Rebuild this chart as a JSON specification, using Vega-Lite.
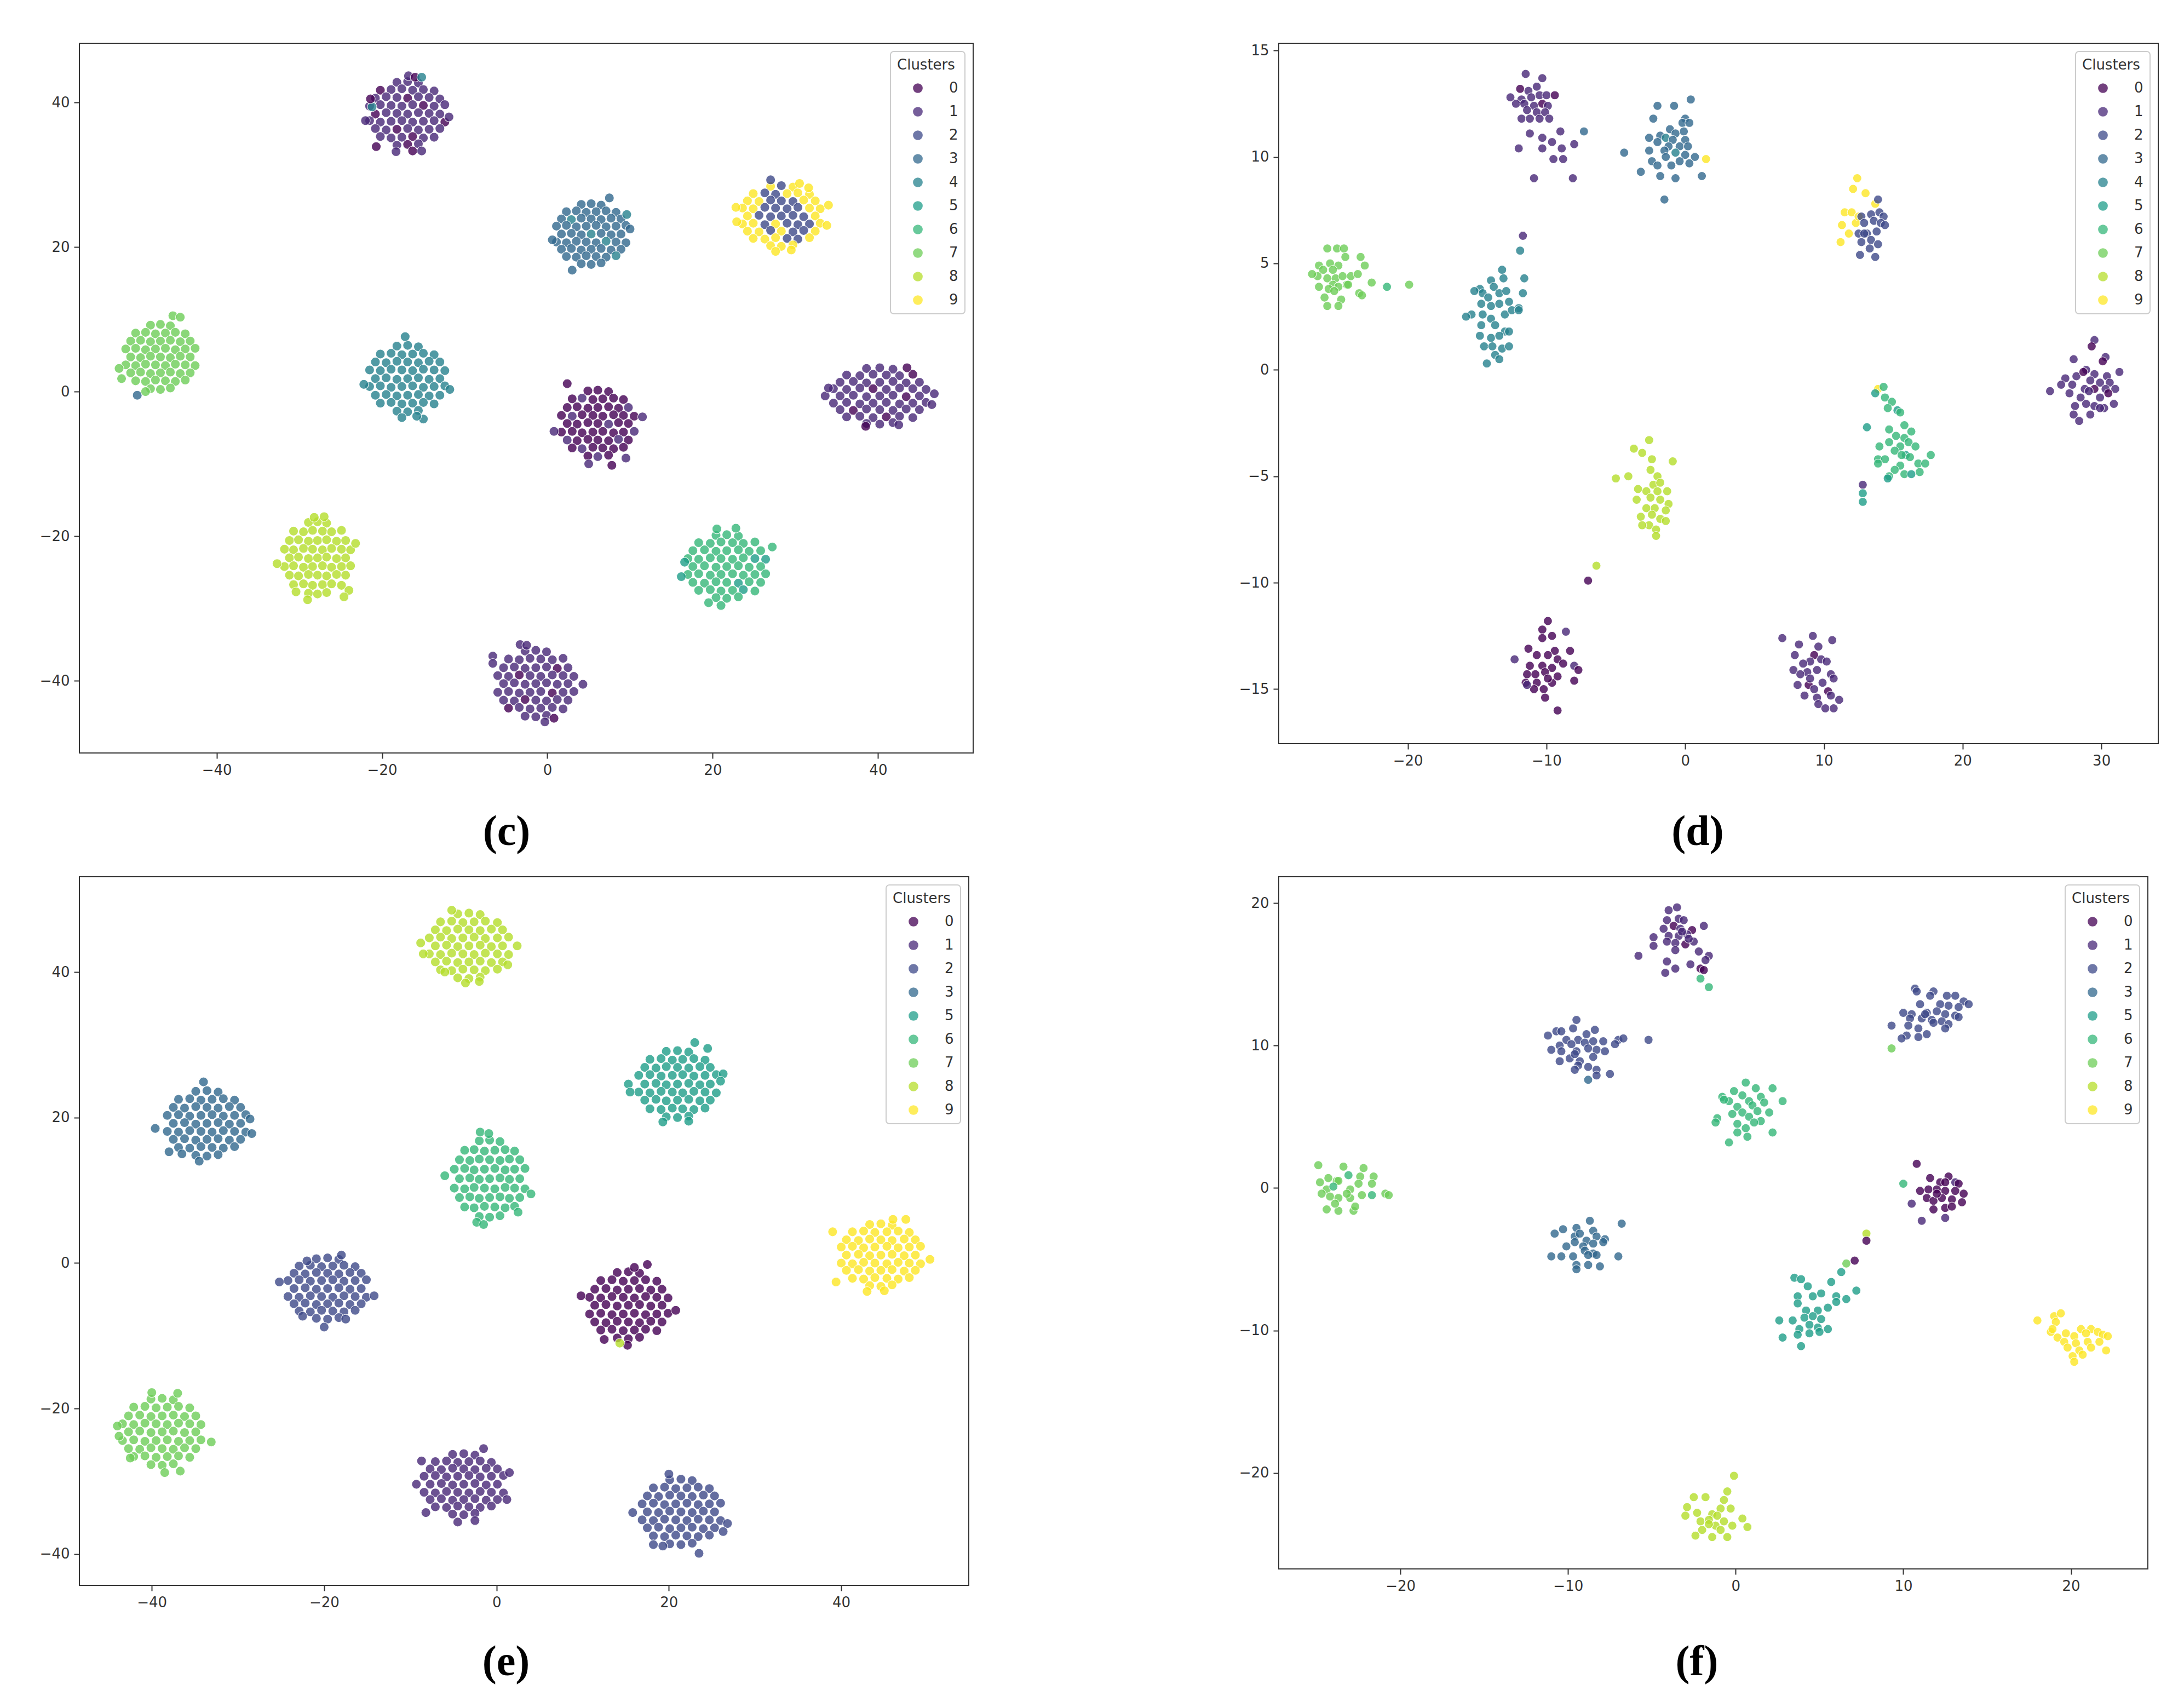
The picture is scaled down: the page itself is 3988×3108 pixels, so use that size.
{
"$schema": "https://vega.github.io/schema/vega-lite/v6.json",
"background": "white",
"padding": {"left": 71, "top": 78, "right": 20, "bottom": 10},
"autosize": {"type": "pad"},
"config": {
 "font": "DejaVu Sans",
 "view": {"stroke": "#333333", "strokeWidth": 2},
 "axis": {"domain": false, "grid": false, "tickColor": "#333333", "tickSize": 10, "tickWidth": 2, "labelFont": "DejaVu Sans", "labelFontSize": 26, "labelColor": "#333333", "labelPadding": 8, "labelFlush": false, "labelOverlap": false},
 "legend": {"orient": "top-right", "offset": 15, "padding": 12, "fillColor": "rgba(255,255,255,0.8)", "strokeColor": "#cccccc", "strokeWidth": 2, "cornerRadius": 6, "titleFont": "DejaVu Sans", "titleFontSize": 26, "titleFontWeight": "normal", "titleColor": "#333333", "titlePadding": 16, "labelFont": "DejaVu Sans", "labelFontSize": 26, "labelColor": "#333333", "symbolSize": 314, "symbolType": "circle", "symbolOffset": 25, "labelOffset": 44, "rowPadding": 17, "symbolOpacity": 0.75, "symbolStrokeWidth": 0},
 "title": {"font": "Liberation Serif", "fontSize": 78, "fontWeight": "bold", "color": "#000000", "anchor": "middle", "baseline": "top"}
},
"columns": 2,
"bounds": "flush",
"spacing": {"row": 226, "column": 558},
"resolve": {"scale": {"x": "independent", "y": "independent", "color": "independent"}, "legend": {"color": "independent"}},
"datasets": {
"c": [
{"x":-18.2,"y":42.8,"c":1},{"x":-16.9,"y":42.9,"c":1},{"x":-15.6,"y":42.7,"c":1},
{"x":-20.2,"y":41.7,"c":0},{"x":-18.9,"y":41.8,"c":1},{"x":-17.6,"y":41.9,"c":1},{"x":-16.3,"y":41.7,"c":1},{"x":-15.0,"y":41.8,"c":1},{"x":-13.7,"y":41.6,"c":1},
{"x":-20.8,"y":40.6,"c":1},{"x":-19.5,"y":40.8,"c":1},{"x":-18.2,"y":40.7,"c":1},{"x":-16.9,"y":40.6,"c":0},{"x":-15.6,"y":40.8,"c":1},{"x":-14.3,"y":40.7,"c":1},{"x":-13.0,"y":40.5,"c":1},
{"x":-21.5,"y":39.5,"c":1},{"x":-20.2,"y":39.7,"c":1},{"x":-18.9,"y":39.6,"c":1},{"x":-17.6,"y":39.5,"c":1},{"x":-16.3,"y":39.7,"c":1},{"x":-15.0,"y":39.6,"c":0},{"x":-13.7,"y":39.5,"c":1},{"x":-12.4,"y":39.7,"c":1},
{"x":-20.8,"y":38.4,"c":0},{"x":-19.5,"y":38.6,"c":1},{"x":-18.2,"y":38.5,"c":1},{"x":-16.9,"y":38.4,"c":1},{"x":-15.6,"y":38.6,"c":1},{"x":-14.3,"y":38.5,"c":1},{"x":-13.0,"y":38.4,"c":1},
{"x":-21.5,"y":37.5,"c":1},{"x":-20.2,"y":37.3,"c":1},{"x":-18.9,"y":37.4,"c":1},{"x":-17.6,"y":37.5,"c":1},{"x":-16.3,"y":37.3,"c":1},{"x":-15.0,"y":37.4,"c":1},{"x":-13.7,"y":37.5,"c":1},{"x":-12.4,"y":37.3,"c":0},
{"x":-20.8,"y":36.4,"c":1},{"x":-19.5,"y":36.2,"c":1},{"x":-18.2,"y":36.3,"c":0},{"x":-16.9,"y":36.4,"c":1},{"x":-15.6,"y":36.2,"c":1},{"x":-14.3,"y":36.3,"c":1},{"x":-13.0,"y":36.4,"c":1},
{"x":-20.2,"y":35.3,"c":1},{"x":-18.9,"y":35.1,"c":1},{"x":-17.6,"y":35.2,"c":1},{"x":-16.3,"y":35.3,"c":0},{"x":-15.0,"y":35.1,"c":1},{"x":-13.7,"y":35.2,"c":1},
{"x":-18.2,"y":34.1,"c":1},{"x":-16.9,"y":34.2,"c":0},{"x":-15.6,"y":34.3,"c":1},
{"x":-16.8,"y":43.7,"c":1},{"x":-16.0,"y":43.5,"c":0},{"x":-15.2,"y":43.5,"c":4},{"x":-21.2,"y":39.4,"c":4},{"x":-20.7,"y":33.9,"c":0},{"x":-18.3,"y":33.2,"c":1},{"x":-16.3,"y":33.3,"c":0},{"x":-15.2,"y":33.3,"c":1},{"x":-22.0,"y":37.5,"c":1},{"x":-11.9,"y":38.0,"c":1},{"x":-21.4,"y":40.5,"c":0},

{"x":-48.0,"y":9.2,"c":7},{"x":-46.8,"y":9.3,"c":7},{"x":-45.6,"y":9.1,"c":7},
{"x":-49.8,"y":8.1,"c":7},{"x":-48.6,"y":8.2,"c":7},{"x":-47.4,"y":8.0,"c":7},{"x":-46.2,"y":8.1,"c":7},{"x":-45.0,"y":8.2,"c":7},{"x":-43.8,"y":8.0,"c":7},
{"x":-50.4,"y":7.0,"c":7},{"x":-49.2,"y":7.1,"c":7},{"x":-48.0,"y":6.9,"c":7},{"x":-46.8,"y":7.0,"c":7},{"x":-45.6,"y":7.1,"c":7},{"x":-44.4,"y":6.9,"c":7},{"x":-43.2,"y":7.0,"c":7},
{"x":-51.0,"y":5.9,"c":7},{"x":-49.8,"y":6.0,"c":7},{"x":-48.6,"y":5.8,"c":7},{"x":-47.4,"y":5.9,"c":7},{"x":-46.2,"y":6.0,"c":7},{"x":-45.0,"y":5.8,"c":7},{"x":-43.8,"y":5.9,"c":7},{"x":-42.6,"y":6.0,"c":7},
{"x":-50.4,"y":4.8,"c":7},{"x":-49.2,"y":4.7,"c":7},{"x":-48.0,"y":4.9,"c":7},{"x":-46.8,"y":4.8,"c":7},{"x":-45.6,"y":4.7,"c":7},{"x":-44.4,"y":4.9,"c":7},{"x":-43.2,"y":4.8,"c":7},
{"x":-51.0,"y":3.7,"c":7},{"x":-49.8,"y":3.6,"c":7},{"x":-48.6,"y":3.8,"c":7},{"x":-47.4,"y":3.7,"c":7},{"x":-46.2,"y":3.6,"c":7},{"x":-45.0,"y":3.8,"c":7},{"x":-43.8,"y":3.7,"c":7},{"x":-42.6,"y":3.6,"c":7},
{"x":-50.4,"y":2.6,"c":7},{"x":-49.2,"y":2.7,"c":7},{"x":-48.0,"y":2.5,"c":7},{"x":-46.8,"y":2.6,"c":7},{"x":-45.6,"y":2.7,"c":7},{"x":-44.4,"y":2.5,"c":7},{"x":-43.2,"y":2.6,"c":7},
{"x":-49.8,"y":1.5,"c":7},{"x":-48.6,"y":1.4,"c":7},{"x":-47.4,"y":1.6,"c":7},{"x":-46.2,"y":1.5,"c":7},{"x":-45.0,"y":1.4,"c":7},{"x":-43.8,"y":1.6,"c":7},
{"x":-48.0,"y":0.4,"c":7},{"x":-46.8,"y":0.3,"c":7},{"x":-45.6,"y":0.5,"c":7},
{"x":-49.6,"y":-0.5,"c":3},{"x":-45.3,"y":10.5,"c":7},{"x":-44.4,"y":10.3,"c":7},{"x":-51.8,"y":3.2,"c":7},{"x":-51.5,"y":1.8,"c":7},{"x":-48.6,"y":0.0,"c":7},

{"x":-18.2,"y":6.3,"c":4},{"x":-16.9,"y":6.4,"c":4},{"x":-15.6,"y":6.2,"c":4},
{"x":-20.2,"y":5.2,"c":4},{"x":-18.9,"y":5.3,"c":4},{"x":-17.6,"y":5.1,"c":4},{"x":-16.3,"y":5.2,"c":4},{"x":-15.0,"y":5.3,"c":4},{"x":-13.7,"y":5.1,"c":4},
{"x":-20.8,"y":4.1,"c":4},{"x":-19.5,"y":4.0,"c":4},{"x":-18.2,"y":4.2,"c":4},{"x":-16.9,"y":4.1,"c":4},{"x":-15.6,"y":4.0,"c":4},{"x":-14.3,"y":4.2,"c":4},{"x":-13.0,"y":4.1,"c":4},
{"x":-21.5,"y":3.0,"c":4},{"x":-20.2,"y":2.9,"c":4},{"x":-18.9,"y":3.1,"c":4},{"x":-17.6,"y":3.0,"c":4},{"x":-16.3,"y":2.9,"c":4},{"x":-15.0,"y":3.1,"c":4},{"x":-13.7,"y":3.0,"c":4},{"x":-12.4,"y":2.9,"c":4},
{"x":-20.8,"y":1.8,"c":4},{"x":-19.5,"y":1.9,"c":4},{"x":-18.2,"y":1.7,"c":4},{"x":-16.9,"y":1.8,"c":4},{"x":-15.6,"y":1.9,"c":4},{"x":-14.3,"y":1.7,"c":4},{"x":-13.0,"y":1.8,"c":4},
{"x":-21.5,"y":0.7,"c":4},{"x":-20.2,"y":0.8,"c":4},{"x":-18.9,"y":0.6,"c":4},{"x":-17.6,"y":0.7,"c":4},{"x":-16.3,"y":0.8,"c":4},{"x":-15.0,"y":0.6,"c":4},{"x":-13.7,"y":0.7,"c":4},{"x":-12.4,"y":0.8,"c":4},
{"x":-20.8,"y":-0.5,"c":4},{"x":-19.5,"y":-0.4,"c":4},{"x":-18.2,"y":-0.6,"c":4},{"x":-16.9,"y":-0.5,"c":4},{"x":-15.6,"y":-0.4,"c":4},{"x":-14.3,"y":-0.6,"c":4},{"x":-13.0,"y":-0.5,"c":4},
{"x":-20.2,"y":-1.6,"c":4},{"x":-18.9,"y":-1.5,"c":4},{"x":-17.6,"y":-1.7,"c":4},{"x":-16.3,"y":-1.6,"c":4},{"x":-15.0,"y":-1.5,"c":4},{"x":-13.7,"y":-1.7,"c":4},
{"x":-18.2,"y":-2.7,"c":4},{"x":-16.9,"y":-2.8,"c":4},{"x":-15.6,"y":-2.6,"c":4},
{"x":-17.2,"y":7.6,"c":4},{"x":-15.0,"y":-3.8,"c":4},{"x":-17.6,"y":-3.6,"c":4},{"x":-22.2,"y":1.0,"c":4},{"x":-11.8,"y":0.3,"c":4},{"x":-15.8,"y":-3.4,"c":4},

{"x":4.1,"y":25.9,"c":3},{"x":5.3,"y":26.0,"c":3},{"x":6.5,"y":25.8,"c":3},
{"x":2.3,"y":24.9,"c":3},{"x":3.5,"y":25.0,"c":3},{"x":4.7,"y":24.8,"c":3},{"x":5.9,"y":24.9,"c":3},{"x":7.1,"y":25.0,"c":3},{"x":8.3,"y":24.8,"c":3},
{"x":1.7,"y":23.9,"c":3},{"x":2.9,"y":23.8,"c":4},{"x":4.1,"y":24.0,"c":3},{"x":5.3,"y":23.9,"c":3},{"x":6.5,"y":23.8,"c":3},{"x":7.7,"y":24.0,"c":3},{"x":8.9,"y":23.9,"c":3},
{"x":1.1,"y":22.9,"c":3},{"x":2.3,"y":23.0,"c":3},{"x":3.5,"y":22.8,"c":3},{"x":4.7,"y":22.9,"c":3},{"x":5.9,"y":23.0,"c":3},{"x":7.1,"y":22.8,"c":3},{"x":8.3,"y":22.9,"c":3},{"x":9.5,"y":23.0,"c":3},
{"x":1.7,"y":21.8,"c":3},{"x":2.9,"y":21.9,"c":3},{"x":4.1,"y":21.7,"c":3},{"x":5.3,"y":21.8,"c":4},{"x":6.5,"y":21.9,"c":3},{"x":7.7,"y":21.7,"c":3},{"x":8.9,"y":21.8,"c":3},
{"x":1.1,"y":20.7,"c":3},{"x":2.3,"y":20.6,"c":3},{"x":3.5,"y":20.8,"c":3},{"x":4.7,"y":20.7,"c":3},{"x":5.9,"y":20.6,"c":3},{"x":7.1,"y":20.8,"c":4},{"x":8.3,"y":20.7,"c":3},{"x":9.5,"y":20.6,"c":3},
{"x":1.7,"y":19.7,"c":3},{"x":2.9,"y":19.8,"c":3},{"x":4.1,"y":19.6,"c":3},{"x":5.3,"y":19.7,"c":3},{"x":6.5,"y":19.8,"c":3},{"x":7.7,"y":19.6,"c":3},{"x":8.9,"y":19.7,"c":3},
{"x":2.3,"y":18.7,"c":3},{"x":3.5,"y":18.6,"c":3},{"x":4.7,"y":18.8,"c":3},{"x":5.9,"y":18.7,"c":3},{"x":7.1,"y":18.6,"c":3},{"x":8.3,"y":18.8,"c":4},
{"x":4.1,"y":17.7,"c":3},{"x":5.3,"y":17.6,"c":3},{"x":6.5,"y":17.8,"c":3},
{"x":0.6,"y":21.0,"c":3},{"x":10.0,"y":22.5,"c":3},{"x":3.0,"y":16.8,"c":3},{"x":7.5,"y":26.8,"c":3},{"x":9.6,"y":24.5,"c":4},

{"x":27.0,"y":28.4,"c":9},{"x":28.3,"y":28.5,"c":2},{"x":29.7,"y":28.3,"c":9},
{"x":24.9,"y":27.4,"c":9},{"x":26.3,"y":27.5,"c":2},{"x":27.6,"y":27.3,"c":2},{"x":29.0,"y":27.4,"c":9},{"x":30.3,"y":27.5,"c":9},{"x":31.7,"y":27.3,"c":9},
{"x":24.2,"y":26.4,"c":9},{"x":25.6,"y":26.3,"c":9},{"x":27.0,"y":26.5,"c":2},{"x":28.3,"y":26.4,"c":2},{"x":29.7,"y":26.3,"c":2},{"x":31.0,"y":26.5,"c":9},{"x":32.4,"y":26.4,"c":9},
{"x":23.6,"y":25.4,"c":9},{"x":24.9,"y":25.3,"c":9},{"x":26.3,"y":25.5,"c":2},{"x":27.6,"y":25.4,"c":2},{"x":29.0,"y":25.3,"c":2},{"x":30.3,"y":25.5,"c":2},{"x":31.7,"y":25.4,"c":9},{"x":33.0,"y":25.3,"c":9},
{"x":24.2,"y":24.3,"c":9},{"x":25.6,"y":24.4,"c":2},{"x":27.0,"y":24.2,"c":2},{"x":28.3,"y":24.3,"c":2},{"x":29.7,"y":24.4,"c":2},{"x":31.0,"y":24.2,"c":2},{"x":32.4,"y":24.3,"c":9},
{"x":23.6,"y":23.2,"c":9},{"x":24.9,"y":23.3,"c":9},{"x":26.3,"y":23.1,"c":2},{"x":27.6,"y":23.2,"c":9},{"x":29.0,"y":23.3,"c":2},{"x":30.3,"y":23.1,"c":2},{"x":31.7,"y":23.2,"c":2},{"x":33.0,"y":23.3,"c":9},
{"x":24.2,"y":22.2,"c":9},{"x":25.6,"y":22.1,"c":9},{"x":27.0,"y":22.3,"c":2},{"x":28.3,"y":22.2,"c":9},{"x":29.7,"y":22.1,"c":2},{"x":31.0,"y":22.3,"c":2},{"x":32.4,"y":22.2,"c":9},
{"x":24.9,"y":21.2,"c":9},{"x":26.3,"y":21.1,"c":9},{"x":27.6,"y":21.3,"c":9},{"x":29.0,"y":21.2,"c":2},{"x":30.3,"y":21.1,"c":2},{"x":31.7,"y":21.3,"c":9},
{"x":27.0,"y":20.2,"c":9},{"x":28.3,"y":20.1,"c":9},{"x":29.7,"y":20.3,"c":9},
{"x":22.8,"y":25.5,"c":9},{"x":22.9,"y":23.5,"c":9},{"x":34.0,"y":25.8,"c":9},{"x":33.8,"y":23.0,"c":9},{"x":27.0,"y":29.3,"c":2},{"x":30.5,"y":28.8,"c":9},{"x":31.6,"y":28.2,"c":9},{"x":27.6,"y":19.4,"c":9},{"x":29.5,"y":19.6,"c":9},

{"x":38.6,"y":3.2,"c":1},{"x":40.2,"y":3.3,"c":1},{"x":41.8,"y":3.1,"c":1},
{"x":36.2,"y":2.3,"c":1},{"x":37.8,"y":2.2,"c":1},{"x":39.4,"y":2.4,"c":1},{"x":41.0,"y":2.3,"c":1},{"x":42.6,"y":2.2,"c":1},{"x":44.2,"y":2.4,"c":0},
{"x":35.4,"y":1.3,"c":1},{"x":37.0,"y":1.4,"c":1},{"x":38.6,"y":1.2,"c":1},{"x":40.2,"y":1.3,"c":1},{"x":41.8,"y":1.4,"c":1},{"x":43.4,"y":1.2,"c":1},{"x":45.0,"y":1.3,"c":1},
{"x":34.6,"y":0.4,"c":1},{"x":36.2,"y":0.3,"c":1},{"x":37.8,"y":0.5,"c":1},{"x":39.4,"y":0.4,"c":0},{"x":41.0,"y":0.3,"c":1},{"x":42.6,"y":0.5,"c":1},{"x":44.2,"y":0.4,"c":1},{"x":45.8,"y":0.3,"c":1},
{"x":35.4,"y":-0.6,"c":1},{"x":37.0,"y":-0.5,"c":1},{"x":38.6,"y":-0.7,"c":1},{"x":40.2,"y":-0.6,"c":1},{"x":41.8,"y":-0.5,"c":1},{"x":43.4,"y":-0.7,"c":0},{"x":45.0,"y":-0.6,"c":1},
{"x":34.6,"y":-1.6,"c":1},{"x":36.2,"y":-1.5,"c":1},{"x":37.8,"y":-1.7,"c":1},{"x":39.4,"y":-1.6,"c":1},{"x":41.0,"y":-1.5,"c":1},{"x":42.6,"y":-1.7,"c":1},{"x":44.2,"y":-1.6,"c":1},{"x":45.8,"y":-1.5,"c":1},
{"x":35.4,"y":-2.5,"c":1},{"x":37.0,"y":-2.6,"c":0},{"x":38.6,"y":-2.4,"c":1},{"x":40.2,"y":-2.5,"c":1},{"x":41.8,"y":-2.6,"c":1},{"x":43.4,"y":-2.4,"c":1},{"x":45.0,"y":-2.5,"c":1},
{"x":36.2,"y":-3.5,"c":1},{"x":37.8,"y":-3.4,"c":1},{"x":39.4,"y":-3.6,"c":1},{"x":41.0,"y":-3.5,"c":0},{"x":42.6,"y":-3.4,"c":1},{"x":44.2,"y":-3.6,"c":1},
{"x":38.6,"y":-4.4,"c":1},{"x":40.2,"y":-4.5,"c":1},{"x":41.8,"y":-4.3,"c":1},
{"x":43.5,"y":3.3,"c":0},{"x":33.6,"y":-0.6,"c":1},{"x":46.8,"y":-0.3,"c":1},{"x":46.5,"y":-1.8,"c":1},{"x":38.5,"y":-4.8,"c":0},{"x":42.5,"y":-4.6,"c":1},{"x":34.0,"y":0.5,"c":1},

{"x":4.9,"y":0.1,"c":0},{"x":6.1,"y":0.2,"c":0},{"x":7.4,"y":0.0,"c":0},
{"x":3.0,"y":-1.0,"c":0},{"x":4.2,"y":-0.9,"c":1},{"x":5.5,"y":-1.1,"c":0},{"x":6.7,"y":-1.0,"c":0},{"x":8.0,"y":-0.9,"c":0},{"x":9.2,"y":-1.1,"c":0},
{"x":2.4,"y":-2.2,"c":0},{"x":3.6,"y":-2.1,"c":0},{"x":4.9,"y":-2.3,"c":0},{"x":6.1,"y":-2.2,"c":0},{"x":7.4,"y":-2.1,"c":0},{"x":8.6,"y":-2.3,"c":0},{"x":9.8,"y":-2.2,"c":1},
{"x":1.7,"y":-3.3,"c":0},{"x":3.0,"y":-3.4,"c":1},{"x":4.2,"y":-3.2,"c":0},{"x":5.5,"y":-3.3,"c":0},{"x":6.7,"y":-3.4,"c":0},{"x":8.0,"y":-3.2,"c":0},{"x":9.2,"y":-3.3,"c":0},{"x":10.5,"y":-3.4,"c":0},
{"x":2.4,"y":-4.4,"c":0},{"x":3.6,"y":-4.5,"c":0},{"x":4.9,"y":-4.3,"c":0},{"x":6.1,"y":-4.4,"c":0},{"x":7.4,"y":-4.5,"c":1},{"x":8.6,"y":-4.3,"c":0},{"x":9.8,"y":-4.4,"c":0},
{"x":1.7,"y":-5.6,"c":0},{"x":3.0,"y":-5.5,"c":0},{"x":4.2,"y":-5.7,"c":0},{"x":5.5,"y":-5.6,"c":0},{"x":6.7,"y":-5.5,"c":0},{"x":8.0,"y":-5.7,"c":0},{"x":9.2,"y":-5.6,"c":0},{"x":10.5,"y":-5.5,"c":1},
{"x":2.4,"y":-6.7,"c":1},{"x":3.6,"y":-6.8,"c":0},{"x":4.9,"y":-6.6,"c":0},{"x":6.1,"y":-6.7,"c":0},{"x":7.4,"y":-6.8,"c":0},{"x":8.6,"y":-6.6,"c":1},{"x":9.8,"y":-6.7,"c":0},
{"x":3.0,"y":-7.8,"c":0},{"x":4.2,"y":-7.9,"c":1},{"x":5.5,"y":-7.7,"c":0},{"x":6.7,"y":-7.8,"c":0},{"x":8.0,"y":-7.9,"c":0},{"x":9.2,"y":-7.7,"c":0},
{"x":4.9,"y":-8.9,"c":0},{"x":6.1,"y":-9.0,"c":1},{"x":7.4,"y":-8.8,"c":0},
{"x":2.4,"y":1.1,"c":0},{"x":11.5,"y":-3.5,"c":1},{"x":0.8,"y":-5.5,"c":1},{"x":5.0,"y":-10.0,"c":1},{"x":7.8,"y":-10.2,"c":0},{"x":9.5,"y":-9.2,"c":1},

{"x":20.4,"y":-19.9,"c":6},{"x":21.7,"y":-19.8,"c":6},{"x":23.1,"y":-20.0,"c":6},
{"x":18.3,"y":-20.9,"c":6},{"x":19.7,"y":-21.0,"c":6},{"x":21.0,"y":-20.8,"c":6},{"x":22.4,"y":-20.9,"c":6},{"x":23.7,"y":-21.0,"c":6},{"x":25.1,"y":-20.8,"c":6},
{"x":17.6,"y":-22.0,"c":6},{"x":19.0,"y":-21.9,"c":6},{"x":20.4,"y":-22.1,"c":6},{"x":21.7,"y":-22.0,"c":6},{"x":23.1,"y":-21.9,"c":6},{"x":24.4,"y":-22.1,"c":6},{"x":25.8,"y":-22.0,"c":6},
{"x":17.0,"y":-23.1,"c":6},{"x":18.3,"y":-23.2,"c":6},{"x":19.7,"y":-23.0,"c":6},{"x":21.0,"y":-23.1,"c":6},{"x":22.4,"y":-23.2,"c":6},{"x":23.7,"y":-23.0,"c":6},{"x":25.1,"y":-23.1,"c":5},{"x":26.4,"y":-23.2,"c":5},
{"x":17.6,"y":-24.2,"c":6},{"x":19.0,"y":-24.1,"c":6},{"x":20.4,"y":-24.3,"c":6},{"x":21.7,"y":-24.2,"c":6},{"x":23.1,"y":-24.1,"c":6},{"x":24.4,"y":-24.3,"c":6},{"x":25.8,"y":-24.2,"c":6},
{"x":17.0,"y":-25.3,"c":6},{"x":18.3,"y":-25.2,"c":6},{"x":19.7,"y":-25.4,"c":6},{"x":21.0,"y":-25.3,"c":6},{"x":22.4,"y":-25.2,"c":6},{"x":23.7,"y":-25.4,"c":6},{"x":25.1,"y":-25.3,"c":6},{"x":26.4,"y":-25.2,"c":6},
{"x":17.6,"y":-26.4,"c":6},{"x":19.0,"y":-26.5,"c":6},{"x":20.4,"y":-26.3,"c":6},{"x":21.7,"y":-26.4,"c":6},{"x":23.1,"y":-26.5,"c":5},{"x":24.4,"y":-26.3,"c":6},{"x":25.8,"y":-26.4,"c":6},
{"x":18.3,"y":-27.5,"c":6},{"x":19.7,"y":-27.4,"c":6},{"x":21.0,"y":-27.6,"c":6},{"x":22.4,"y":-27.5,"c":6},{"x":23.7,"y":-27.4,"c":5},{"x":25.1,"y":-27.6,"c":6},
{"x":20.4,"y":-28.5,"c":6},{"x":21.7,"y":-28.6,"c":6},{"x":23.1,"y":-28.4,"c":6},
{"x":16.6,"y":-23.6,"c":5},{"x":16.2,"y":-25.6,"c":5},{"x":20.5,"y":-19.0,"c":6},{"x":22.8,"y":-18.9,"c":6},{"x":19.5,"y":-29.2,"c":6},{"x":21.0,"y":-29.6,"c":6},{"x":27.2,"y":-21.5,"c":6},

{"x":-28.9,"y":-18.1,"c":8},{"x":-27.8,"y":-18.0,"c":8},{"x":-26.7,"y":-18.2,"c":8},
{"x":-30.7,"y":-19.3,"c":8},{"x":-29.5,"y":-19.4,"c":8},{"x":-28.4,"y":-19.2,"c":8},{"x":-27.2,"y":-19.3,"c":8},{"x":-26.1,"y":-19.4,"c":8},{"x":-24.9,"y":-19.2,"c":8},
{"x":-31.2,"y":-20.6,"c":8},{"x":-30.1,"y":-20.5,"c":8},{"x":-28.9,"y":-20.7,"c":8},{"x":-27.8,"y":-20.6,"c":8},{"x":-26.7,"y":-20.5,"c":8},{"x":-25.5,"y":-20.7,"c":8},{"x":-24.4,"y":-20.6,"c":8},
{"x":-31.8,"y":-21.8,"c":8},{"x":-30.7,"y":-21.9,"c":8},{"x":-29.5,"y":-21.7,"c":8},{"x":-28.4,"y":-21.8,"c":8},{"x":-27.2,"y":-21.9,"c":8},{"x":-26.1,"y":-21.7,"c":8},{"x":-24.9,"y":-21.8,"c":8},{"x":-23.8,"y":-21.9,"c":8},
{"x":-31.2,"y":-23.0,"c":8},{"x":-30.1,"y":-22.9,"c":8},{"x":-28.9,"y":-23.1,"c":8},{"x":-27.8,"y":-23.0,"c":8},{"x":-26.7,"y":-22.9,"c":8},{"x":-25.5,"y":-23.1,"c":8},{"x":-24.4,"y":-23.0,"c":8},
{"x":-31.8,"y":-24.2,"c":8},{"x":-30.7,"y":-24.1,"c":8},{"x":-29.5,"y":-24.3,"c":8},{"x":-28.4,"y":-24.2,"c":8},{"x":-27.2,"y":-24.1,"c":8},{"x":-26.1,"y":-24.3,"c":8},{"x":-24.9,"y":-24.2,"c":8},{"x":-23.8,"y":-24.1,"c":8},
{"x":-31.2,"y":-25.4,"c":8},{"x":-30.1,"y":-25.5,"c":8},{"x":-28.9,"y":-25.3,"c":8},{"x":-27.8,"y":-25.4,"c":8},{"x":-26.7,"y":-25.5,"c":8},{"x":-25.5,"y":-25.3,"c":8},{"x":-24.4,"y":-25.4,"c":8},
{"x":-30.7,"y":-26.7,"c":8},{"x":-29.5,"y":-26.6,"c":8},{"x":-28.4,"y":-26.8,"c":8},{"x":-27.2,"y":-26.7,"c":8},{"x":-26.1,"y":-26.6,"c":8},{"x":-24.9,"y":-26.8,"c":8},
{"x":-28.9,"y":-27.9,"c":8},{"x":-27.8,"y":-28.0,"c":8},{"x":-26.7,"y":-27.8,"c":8},
{"x":-27.0,"y":-17.3,"c":8},{"x":-28.2,"y":-17.4,"c":8},{"x":-32.7,"y":-23.8,"c":8},{"x":-23.2,"y":-21.0,"c":8},{"x":-24.0,"y":-27.5,"c":8},{"x":-24.6,"y":-28.4,"c":8},{"x":-29.0,"y":-28.8,"c":8},{"x":-30.4,"y":-27.7,"c":8},

{"x":-2.7,"y":-35.9,"c":1},{"x":-1.4,"y":-35.8,"c":1},{"x":-0.1,"y":-36.0,"c":1},
{"x":-4.7,"y":-37.0,"c":1},{"x":-3.4,"y":-37.1,"c":1},{"x":-2.1,"y":-36.9,"c":1},{"x":-0.8,"y":-37.0,"c":1},{"x":0.6,"y":-37.1,"c":1},{"x":1.9,"y":-36.9,"c":1},
{"x":-5.3,"y":-38.2,"c":1},{"x":-4.0,"y":-38.1,"c":1},{"x":-2.7,"y":-38.3,"c":1},{"x":-1.4,"y":-38.2,"c":1},{"x":-0.1,"y":-38.1,"c":1},{"x":1.2,"y":-38.3,"c":0},{"x":2.5,"y":-38.2,"c":1},
{"x":-6.0,"y":-39.3,"c":1},{"x":-4.7,"y":-39.4,"c":1},{"x":-3.4,"y":-39.2,"c":0},{"x":-2.1,"y":-39.3,"c":1},{"x":-0.8,"y":-39.4,"c":1},{"x":0.6,"y":-39.2,"c":1},{"x":1.9,"y":-39.3,"c":1},{"x":3.2,"y":-39.4,"c":1},
{"x":-5.3,"y":-40.4,"c":1},{"x":-4.0,"y":-40.3,"c":1},{"x":-2.7,"y":-40.5,"c":1},{"x":-1.4,"y":-40.4,"c":1},{"x":-0.1,"y":-40.3,"c":1},{"x":1.2,"y":-40.5,"c":1},{"x":2.5,"y":-40.4,"c":1},
{"x":-6.0,"y":-41.6,"c":1},{"x":-4.7,"y":-41.5,"c":1},{"x":-3.4,"y":-41.7,"c":1},{"x":-2.1,"y":-41.6,"c":1},{"x":-0.8,"y":-41.5,"c":1},{"x":0.6,"y":-41.7,"c":0},{"x":1.9,"y":-41.6,"c":1},{"x":3.2,"y":-41.5,"c":1},
{"x":-5.3,"y":-42.7,"c":1},{"x":-4.0,"y":-42.8,"c":1},{"x":-2.7,"y":-42.6,"c":0},{"x":-1.4,"y":-42.7,"c":1},{"x":-0.1,"y":-42.8,"c":1},{"x":1.2,"y":-42.6,"c":1},{"x":2.5,"y":-42.7,"c":1},
{"x":-4.7,"y":-43.8,"c":0},{"x":-3.4,"y":-43.7,"c":1},{"x":-2.1,"y":-43.9,"c":1},{"x":-0.8,"y":-43.8,"c":1},{"x":0.6,"y":-43.7,"c":1},{"x":1.9,"y":-43.9,"c":1},
{"x":-2.7,"y":-44.9,"c":1},{"x":-1.4,"y":-45.0,"c":1},{"x":-0.1,"y":-44.8,"c":1},
{"x":-6.6,"y":-36.6,"c":1},{"x":-6.6,"y":-37.6,"c":1},{"x":-3.3,"y":-35.0,"c":1},{"x":-2.5,"y":-35.1,"c":1},{"x":-0.3,"y":-45.7,"c":1},{"x":4.3,"y":-40.5,"c":1},{"x":0.8,"y":-45.2,"c":0}
],
"d": [
{"x":-11.5,"y":13.9,"c":1},{"x":-10.3,"y":13.7,"c":1},{"x":-11.9,"y":13.2,"c":0},{"x":-11.3,"y":13.1,"c":1},{"x":-10.7,"y":13.3,"c":1},{"x":-12.6,"y":12.8,"c":1},{"x":-11.8,"y":12.7,"c":1},{"x":-11.1,"y":12.8,"c":1},{"x":-10.5,"y":12.9,"c":1},{"x":-10.0,"y":12.9,"c":1},{"x":-9.4,"y":12.9,"c":0},{"x":-12.2,"y":12.5,"c":1},{"x":-11.6,"y":12.5,"c":1},{"x":-10.9,"y":12.4,"c":1},{"x":-10.3,"y":12.5,"c":0},{"x":-9.9,"y":12.4,"c":1},{"x":-11.4,"y":12.2,"c":1},{"x":-10.7,"y":12.1,"c":1},{"x":-10.1,"y":12.1,"c":1},{"x":-11.8,"y":11.8,"c":1},{"x":-11.2,"y":11.8,"c":1},{"x":-10.5,"y":11.8,"c":1},{"x":-9.8,"y":11.8,"c":1},{"x":-9.0,"y":11.2,"c":1},{"x":-11.2,"y":11.1,"c":1},{"x":-10.3,"y":10.9,"c":1},{"x":-9.6,"y":10.7,"c":1},{"x":-8.0,"y":10.6,"c":1},{"x":-8.9,"y":10.4,"c":1},{"x":-12.0,"y":10.4,"c":1},{"x":-10.3,"y":10.4,"c":1},{"x":-9.5,"y":9.9,"c":1},{"x":-8.8,"y":9.9,"c":1},{"x":-10.9,"y":9.0,"c":1},{"x":-8.1,"y":9.0,"c":1},{"x":-7.3,"y":11.2,"c":3},
{"x":0.4,"y":12.7,"c":3},{"x":-0.8,"y":12.4,"c":3},{"x":-2.0,"y":12.4,"c":3},{"x":0.0,"y":11.8,"c":3},{"x":-0.2,"y":11.6,"c":3},{"x":-2.3,"y":11.8,"c":3},{"x":0.3,"y":11.6,"c":3},{"x":-1.1,"y":11.3,"c":3},{"x":-1.8,"y":11.0,"c":3},{"x":-0.7,"y":11.1,"c":3},{"x":-0.1,"y":11.2,"c":3},{"x":-1.4,"y":10.9,"c":4},{"x":-0.9,"y":10.8,"c":3},{"x":0.0,"y":10.8,"c":3},{"x":-2.0,"y":10.7,"c":3},{"x":-1.2,"y":10.5,"c":3},{"x":-0.4,"y":10.5,"c":3},{"x":0.2,"y":10.5,"c":3},{"x":-2.6,"y":10.3,"c":3},{"x":-1.5,"y":10.3,"c":3},{"x":-0.7,"y":10.2,"c":4},{"x":0.0,"y":10.1,"c":3},{"x":0.7,"y":10.0,"c":3},{"x":-4.4,"y":10.2,"c":3},{"x":-2.4,"y":9.8,"c":3},{"x":-1.4,"y":10.0,"c":3},{"x":-0.4,"y":9.8,"c":3},{"x":0.3,"y":9.7,"c":3},{"x":-3.2,"y":9.3,"c":3},{"x":-1.8,"y":9.1,"c":3},{"x":-0.7,"y":9.0,"c":3},{"x":1.2,"y":9.1,"c":3},{"x":-1.5,"y":8.0,"c":3},{"x":-2.0,"y":9.6,"c":3},{"x":-1.0,"y":9.6,"c":3},{"x":-2.6,"y":10.9,"c":3},{"x":1.5,"y":9.9,"c":9},
{"x":-25.8,"y":5.7,"c":7},{"x":-25.1,"y":5.7,"c":7},{"x":-24.6,"y":5.7,"c":7},{"x":-26.4,"y":4.9,"c":7},{"x":-25.6,"y":5.0,"c":7},{"x":-25.0,"y":4.9,"c":7},{"x":-26.1,"y":4.7,"c":7},{"x":-25.4,"y":4.7,"c":7},{"x":-24.5,"y":5.3,"c":7},{"x":-23.4,"y":5.3,"c":7},{"x":-23.1,"y":4.9,"c":7},{"x":-24.1,"y":4.4,"c":7},{"x":-23.6,"y":4.5,"c":7},{"x":-26.5,"y":4.4,"c":7},{"x":-25.8,"y":4.3,"c":7},{"x":-25.2,"y":4.3,"c":7},{"x":-24.7,"y":4.4,"c":7},{"x":-25.4,"y":4.0,"c":7},{"x":-24.4,"y":4.0,"c":7},{"x":-26.4,"y":3.9,"c":7},{"x":-25.7,"y":3.8,"c":7},{"x":-25.0,"y":3.9,"c":7},{"x":-22.6,"y":4.1,"c":7},{"x":-26.0,"y":3.4,"c":7},{"x":-24.8,"y":3.3,"c":7},{"x":-23.5,"y":3.6,"c":7},{"x":-23.3,"y":3.5,"c":7},{"x":-25.8,"y":3.0,"c":7},{"x":-25.0,"y":3.0,"c":7},{"x":-19.9,"y":4.0,"c":7},{"x":-25.3,"y":3.7,"c":7},{"x":-24.3,"y":4.0,"c":7},{"x":-26.9,"y":4.5,"c":7},{"x":-21.5,"y":3.9,"c":6},
{"x":-11.9,"y":5.6,"c":4},{"x":-11.6,"y":4.3,"c":4},{"x":-11.7,"y":3.6,"c":4},{"x":-13.2,"y":4.7,"c":4},{"x":-13.1,"y":4.3,"c":4},{"x":-14.0,"y":4.2,"c":4},{"x":-14.8,"y":3.8,"c":4},{"x":-15.2,"y":3.7,"c":4},{"x":-14.6,"y":3.6,"c":4},{"x":-13.8,"y":3.9,"c":4},{"x":-13.4,"y":3.6,"c":4},{"x":-14.7,"y":3.1,"c":4},{"x":-14.0,"y":3.0,"c":4},{"x":-13.4,"y":3.1,"c":4},{"x":-12.7,"y":3.2,"c":4},{"x":-12.0,"y":2.9,"c":4},{"x":-15.4,"y":2.6,"c":4},{"x":-15.8,"y":2.5,"c":4},{"x":-14.6,"y":2.6,"c":4},{"x":-14.0,"y":2.4,"c":4},{"x":-13.0,"y":2.6,"c":4},{"x":-12.5,"y":2.8,"c":4},{"x":-12.0,"y":2.8,"c":4},{"x":-14.7,"y":2.1,"c":4},{"x":-13.7,"y":2.1,"c":4},{"x":-13.0,"y":1.8,"c":4},{"x":-14.8,"y":1.6,"c":4},{"x":-14.0,"y":1.5,"c":4},{"x":-13.4,"y":1.6,"c":4},{"x":-12.7,"y":1.8,"c":4},{"x":-14.5,"y":1.1,"c":4},{"x":-13.9,"y":1.1,"c":4},{"x":-13.2,"y":1.0,"c":4},{"x":-12.7,"y":1.1,"c":4},{"x":-13.7,"y":0.7,"c":4},{"x":-14.3,"y":0.3,"c":4},{"x":-13.4,"y":0.5,"c":4},{"x":-14.2,"y":3.4,"c":4},{"x":-12.9,"y":3.7,"c":4},{"x":-11.7,"y":6.3,"c":1},
{"x":12.4,"y":9.0,"c":9},{"x":12.1,"y":8.5,"c":9},{"x":13.0,"y":8.3,"c":9},{"x":11.5,"y":7.4,"c":9},{"x":12.0,"y":7.4,"c":9},{"x":11.3,"y":6.8,"c":9},{"x":12.3,"y":6.9,"c":9},{"x":11.8,"y":6.4,"c":9},{"x":11.2,"y":6.0,"c":9},{"x":12.5,"y":7.2,"c":9},{"x":13.7,"y":7.8,"c":9},
{"x":13.9,"y":8.0,"c":2},{"x":12.7,"y":7.2,"c":2},{"x":13.4,"y":7.3,"c":2},{"x":14.0,"y":7.4,"c":2},{"x":14.3,"y":7.2,"c":2},{"x":12.9,"y":6.9,"c":2},{"x":13.6,"y":7.0,"c":2},{"x":14.1,"y":6.9,"c":2},{"x":14.4,"y":6.8,"c":2},{"x":12.5,"y":6.4,"c":2},{"x":13.1,"y":6.4,"c":2},{"x":13.8,"y":6.5,"c":2},{"x":13.4,"y":6.1,"c":2},{"x":12.7,"y":6.0,"c":2},{"x":13.9,"y":5.9,"c":2},{"x":13.3,"y":5.7,"c":2},{"x":12.6,"y":5.4,"c":2},{"x":13.7,"y":5.3,"c":2},{"x":12.9,"y":6.4,"c":2},
{"x":29.5,"y":1.4,"c":1},{"x":29.3,"y":1.1,"c":0},{"x":30.3,"y":0.6,"c":1},{"x":30.1,"y":0.4,"c":0},{"x":28.0,"y":0.5,"c":1},{"x":31.3,"y":-0.1,"c":1},{"x":28.9,"y":0.0,"c":1},{"x":29.5,"y":-0.2,"c":1},{"x":30.4,"y":-0.3,"c":1},{"x":28.2,"y":-0.3,"c":1},{"x":28.7,"y":-0.1,"c":0},{"x":27.4,"y":-0.4,"c":1},{"x":29.2,"y":-0.5,"c":1},{"x":29.9,"y":-0.6,"c":1},{"x":30.6,"y":-0.6,"c":1},{"x":27.9,"y":-0.7,"c":1},{"x":28.8,"y":-0.9,"c":1},{"x":29.5,"y":-0.9,"c":0},{"x":30.3,"y":-0.9,"c":1},{"x":31.0,"y":-0.9,"c":1},{"x":26.3,"y":-1.0,"c":1},{"x":27.7,"y":-1.1,"c":1},{"x":28.5,"y":-1.3,"c":1},{"x":29.1,"y":-1.0,"c":1},{"x":29.9,"y":-1.3,"c":1},{"x":30.5,"y":-1.1,"c":0},{"x":28.1,"y":-1.7,"c":1},{"x":28.9,"y":-1.6,"c":1},{"x":29.5,"y":-1.7,"c":1},{"x":30.2,"y":-1.8,"c":1},{"x":30.9,"y":-1.6,"c":1},{"x":28.0,"y":-2.1,"c":1},{"x":29.2,"y":-2.1,"c":1},{"x":28.4,"y":-2.4,"c":1},{"x":29.9,"y":-1.8,"c":1},{"x":27.1,"y":-0.7,"c":1},
{"x":13.9,"y":-0.9,"c":9},{"x":14.3,"y":-0.8,"c":6},{"x":13.7,"y":-1.1,"c":5},{"x":14.4,"y":-1.3,"c":6},{"x":14.9,"y":-1.5,"c":6},{"x":14.6,"y":-1.8,"c":6},{"x":15.3,"y":-1.9,"c":5},{"x":15.5,"y":-2.0,"c":6},{"x":13.1,"y":-2.7,"c":5},{"x":15.8,"y":-2.6,"c":6},{"x":14.7,"y":-2.8,"c":6},{"x":16.3,"y":-2.9,"c":6},{"x":15.2,"y":-3.1,"c":6},{"x":15.8,"y":-3.2,"c":6},{"x":14.0,"y":-3.6,"c":6},{"x":14.7,"y":-3.4,"c":6},{"x":15.5,"y":-3.6,"c":6},{"x":16.1,"y":-3.4,"c":6},{"x":16.6,"y":-3.6,"c":6},{"x":15.1,"y":-3.8,"c":6},{"x":15.9,"y":-4.0,"c":5},{"x":16.2,"y":-4.1,"c":6},{"x":17.7,"y":-4.0,"c":6},{"x":13.9,"y":-4.2,"c":6},{"x":14.4,"y":-4.2,"c":6},{"x":15.5,"y":-4.5,"c":6},{"x":16.8,"y":-4.4,"c":6},{"x":17.3,"y":-4.4,"c":6},{"x":13.9,"y":-4.4,"c":6},{"x":15.1,"y":-4.7,"c":6},{"x":15.8,"y":-4.9,"c":6},{"x":16.3,"y":-4.9,"c":5},{"x":14.7,"y":-5.0,"c":6},{"x":14.6,"y":-5.1,"c":5},{"x":16.9,"y":-4.8,"c":6},{"x":12.8,"y":-5.4,"c":1},{"x":12.8,"y":-5.8,"c":5},{"x":12.8,"y":-6.2,"c":5},{"x":15.6,"y":-4.0,"c":6},
{"x":-2.6,"y":-3.3,"c":8},{"x":-3.7,"y":-3.7,"c":8},{"x":-3.1,"y":-3.9,"c":8},{"x":-2.4,"y":-4.2,"c":8},{"x":-0.9,"y":-4.3,"c":8},{"x":-4.1,"y":-5.0,"c":8},{"x":-5.0,"y":-5.1,"c":8},{"x":-2.5,"y":-4.7,"c":8},{"x":-2.0,"y":-5.0,"c":8},{"x":-2.3,"y":-5.4,"c":8},{"x":-1.8,"y":-5.3,"c":8},{"x":-3.4,"y":-5.6,"c":8},{"x":-2.8,"y":-5.7,"c":8},{"x":-2.0,"y":-5.7,"c":8},{"x":-1.3,"y":-5.7,"c":8},{"x":-3.5,"y":-6.1,"c":8},{"x":-2.5,"y":-6.0,"c":8},{"x":-1.8,"y":-6.1,"c":8},{"x":-1.2,"y":-6.3,"c":8},{"x":-2.8,"y":-6.5,"c":8},{"x":-2.2,"y":-6.5,"c":8},{"x":-1.4,"y":-6.6,"c":8},{"x":-3.2,"y":-6.9,"c":8},{"x":-2.4,"y":-6.8,"c":8},{"x":-1.8,"y":-7.0,"c":8},{"x":-2.6,"y":-7.3,"c":8},{"x":-1.4,"y":-7.1,"c":8},{"x":-2.1,"y":-7.5,"c":8},{"x":-3.1,"y":-7.3,"c":8},{"x":-2.1,"y":-7.8,"c":8},{"x":-6.4,"y":-9.2,"c":8},{"x":-7.0,"y":-9.9,"c":0},
{"x":-9.9,"y":-11.8,"c":0},{"x":-10.3,"y":-12.2,"c":0},{"x":-8.6,"y":-12.3,"c":1},{"x":-10.3,"y":-12.6,"c":0},{"x":-9.6,"y":-12.5,"c":0},{"x":-11.3,"y":-13.1,"c":0},{"x":-9.4,"y":-13.2,"c":0},{"x":-8.3,"y":-13.2,"c":0},{"x":-10.7,"y":-13.4,"c":0},{"x":-9.9,"y":-13.4,"c":0},{"x":-9.2,"y":-13.6,"c":0},{"x":-12.3,"y":-13.6,"c":1},{"x":-8.8,"y":-13.8,"c":0},{"x":-11.2,"y":-13.9,"c":0},{"x":-10.3,"y":-13.9,"c":0},{"x":-9.6,"y":-14.0,"c":0},{"x":-8.0,"y":-13.9,"c":1},{"x":-7.7,"y":-14.1,"c":0},{"x":-11.4,"y":-14.3,"c":0},{"x":-10.8,"y":-14.3,"c":0},{"x":-10.1,"y":-14.2,"c":0},{"x":-9.2,"y":-14.4,"c":0},{"x":-11.5,"y":-14.7,"c":0},{"x":-10.7,"y":-14.7,"c":0},{"x":-9.6,"y":-14.7,"c":0},{"x":-8.0,"y":-14.6,"c":0},{"x":-10.9,"y":-15.0,"c":0},{"x":-10.2,"y":-15.0,"c":0},{"x":-11.4,"y":-14.8,"c":1},{"x":-10.1,"y":-15.4,"c":0},{"x":-9.2,"y":-16.0,"c":0},{"x":-9.9,"y":-14.5,"c":0},
{"x":7.0,"y":-12.6,"c":1},{"x":9.2,"y":-12.5,"c":1},{"x":10.6,"y":-12.7,"c":1},{"x":8.2,"y":-12.9,"c":1},{"x":9.6,"y":-13.0,"c":1},{"x":7.9,"y":-13.4,"c":1},{"x":9.3,"y":-13.4,"c":0},{"x":9.0,"y":-13.7,"c":1},{"x":9.8,"y":-13.6,"c":1},{"x":8.5,"y":-13.8,"c":1},{"x":10.2,"y":-13.7,"c":1},{"x":7.8,"y":-14.1,"c":1},{"x":8.8,"y":-14.2,"c":1},{"x":9.5,"y":-14.1,"c":1},{"x":10.5,"y":-14.3,"c":1},{"x":8.1,"y":-14.8,"c":1},{"x":8.9,"y":-14.8,"c":0},{"x":9.9,"y":-14.7,"c":1},{"x":10.7,"y":-14.5,"c":1},{"x":9.3,"y":-15.0,"c":1},{"x":10.3,"y":-15.1,"c":0},{"x":8.6,"y":-15.3,"c":1},{"x":9.5,"y":-15.4,"c":1},{"x":10.5,"y":-15.3,"c":1},{"x":11.1,"y":-15.5,"c":1},{"x":9.6,"y":-15.7,"c":1},{"x":10.1,"y":-15.9,"c":1},{"x":10.7,"y":-15.9,"c":1},{"x":9.0,"y":-14.5,"c":1},{"x":8.3,"y":-14.3,"c":1}
],
"e": [
{"x":-4.5,"y":48.0,"c":8},{"x":-3.2,"y":48.1,"c":8},{"x":-1.9,"y":47.9,"c":8},
{"x":-6.5,"y":46.9,"c":8},{"x":-5.2,"y":47.0,"c":8},{"x":-3.9,"y":46.8,"c":8},{"x":-2.6,"y":46.9,"c":8},{"x":-1.3,"y":47.0,"c":8},{"x":0.1,"y":46.8,"c":8},
{"x":-7.1,"y":45.8,"c":8},{"x":-5.8,"y":45.7,"c":8},{"x":-4.5,"y":45.9,"c":8},{"x":-3.2,"y":45.8,"c":8},{"x":-1.9,"y":45.7,"c":8},{"x":-0.6,"y":45.9,"c":8},{"x":0.7,"y":45.8,"c":8},
{"x":-7.8,"y":44.7,"c":8},{"x":-6.5,"y":44.8,"c":8},{"x":-5.2,"y":44.6,"c":8},{"x":-3.9,"y":44.7,"c":8},{"x":-2.6,"y":44.8,"c":8},{"x":-1.3,"y":44.6,"c":8},{"x":0.1,"y":44.7,"c":8},{"x":1.4,"y":44.8,"c":8},
{"x":-7.1,"y":43.6,"c":8},{"x":-5.8,"y":43.7,"c":8},{"x":-4.5,"y":43.5,"c":8},{"x":-3.2,"y":43.6,"c":8},{"x":-1.9,"y":43.7,"c":8},{"x":-0.6,"y":43.5,"c":8},{"x":0.7,"y":43.6,"c":8},
{"x":-7.8,"y":42.5,"c":8},{"x":-6.5,"y":42.4,"c":8},{"x":-5.2,"y":42.6,"c":8},{"x":-3.9,"y":42.5,"c":8},{"x":-2.6,"y":42.4,"c":8},{"x":-1.3,"y":42.6,"c":8},{"x":0.1,"y":42.5,"c":8},{"x":1.4,"y":42.4,"c":8},
{"x":-7.1,"y":41.4,"c":8},{"x":-5.8,"y":41.5,"c":8},{"x":-4.5,"y":41.3,"c":8},{"x":-3.2,"y":41.4,"c":8},{"x":-1.9,"y":41.5,"c":8},{"x":-0.6,"y":41.3,"c":8},{"x":0.7,"y":41.4,"c":8},
{"x":-6.5,"y":40.3,"c":8},{"x":-5.2,"y":40.2,"c":8},{"x":-3.9,"y":40.4,"c":8},{"x":-2.6,"y":40.3,"c":8},{"x":-1.3,"y":40.2,"c":8},{"x":0.1,"y":40.4,"c":8},
{"x":-4.5,"y":39.2,"c":8},{"x":-3.2,"y":39.1,"c":8},{"x":-1.9,"y":39.3,"c":8},
{"x":-5.2,"y":48.5,"c":8},{"x":-8.8,"y":44.0,"c":8},{"x":-8.5,"y":42.5,"c":8},{"x":2.4,"y":43.6,"c":8},{"x":-3.6,"y":38.5,"c":8},{"x":-2.0,"y":38.7,"c":8},{"x":-6.0,"y":40.0,"c":8},{"x":1.3,"y":41.0,"c":8},

{"x":-34.9,"y":23.6,"c":3},{"x":-33.6,"y":23.7,"c":3},{"x":-32.3,"y":23.5,"c":3},
{"x":-36.9,"y":22.5,"c":3},{"x":-35.6,"y":22.6,"c":3},{"x":-34.3,"y":22.4,"c":3},{"x":-33.0,"y":22.5,"c":3},{"x":-31.7,"y":22.6,"c":3},{"x":-30.4,"y":22.4,"c":3},
{"x":-37.5,"y":21.4,"c":3},{"x":-36.2,"y":21.3,"c":3},{"x":-34.9,"y":21.5,"c":3},{"x":-33.6,"y":21.4,"c":3},{"x":-32.3,"y":21.3,"c":3},{"x":-31.0,"y":21.5,"c":3},{"x":-29.7,"y":21.4,"c":3},
{"x":-38.2,"y":20.3,"c":3},{"x":-36.9,"y":20.4,"c":3},{"x":-35.6,"y":20.2,"c":3},{"x":-34.3,"y":20.3,"c":3},{"x":-33.0,"y":20.4,"c":3},{"x":-31.7,"y":20.2,"c":3},{"x":-30.4,"y":20.3,"c":3},{"x":-29.1,"y":20.4,"c":3},
{"x":-37.5,"y":19.2,"c":3},{"x":-36.2,"y":19.3,"c":3},{"x":-34.9,"y":19.1,"c":3},{"x":-33.6,"y":19.2,"c":3},{"x":-32.3,"y":19.3,"c":3},{"x":-31.0,"y":19.1,"c":3},{"x":-29.7,"y":19.2,"c":3},
{"x":-38.2,"y":18.1,"c":3},{"x":-36.9,"y":18.0,"c":3},{"x":-35.6,"y":18.2,"c":3},{"x":-34.3,"y":18.1,"c":3},{"x":-33.0,"y":18.0,"c":3},{"x":-31.7,"y":18.2,"c":3},{"x":-30.4,"y":18.1,"c":3},{"x":-29.1,"y":18.0,"c":3},
{"x":-37.5,"y":17.0,"c":3},{"x":-36.2,"y":17.1,"c":3},{"x":-34.9,"y":16.9,"c":3},{"x":-33.6,"y":17.0,"c":3},{"x":-32.3,"y":17.1,"c":3},{"x":-31.0,"y":16.9,"c":3},{"x":-29.7,"y":17.0,"c":3},
{"x":-36.9,"y":15.9,"c":3},{"x":-35.6,"y":15.8,"c":3},{"x":-34.3,"y":16.0,"c":3},{"x":-33.0,"y":15.9,"c":3},{"x":-31.7,"y":15.8,"c":3},{"x":-30.4,"y":16.0,"c":3},
{"x":-34.9,"y":14.8,"c":3},{"x":-33.6,"y":14.7,"c":3},{"x":-32.3,"y":14.9,"c":3},
{"x":-34.0,"y":24.9,"c":3},{"x":-39.6,"y":18.5,"c":3},{"x":-28.4,"y":17.8,"c":3},{"x":-28.6,"y":19.8,"c":3},{"x":-34.5,"y":14.0,"c":3},{"x":-36.5,"y":15.0,"c":3},{"x":-38.0,"y":15.3,"c":3},

{"x":19.7,"y":29.1,"c":5},{"x":21.0,"y":29.2,"c":5},{"x":22.3,"y":29.0,"c":5},
{"x":17.8,"y":28.0,"c":5},{"x":19.1,"y":28.1,"c":5},{"x":20.4,"y":27.9,"c":5},{"x":21.6,"y":28.0,"c":5},{"x":22.9,"y":28.1,"c":5},{"x":24.2,"y":27.9,"c":5},
{"x":17.2,"y":26.9,"c":5},{"x":18.5,"y":26.8,"c":5},{"x":19.7,"y":27.0,"c":5},{"x":21.0,"y":26.9,"c":5},{"x":22.3,"y":26.8,"c":5},{"x":23.6,"y":27.0,"c":5},{"x":24.8,"y":26.9,"c":5},
{"x":16.5,"y":25.8,"c":5},{"x":17.8,"y":25.9,"c":5},{"x":19.1,"y":25.7,"c":5},{"x":20.4,"y":25.8,"c":5},{"x":21.6,"y":25.9,"c":5},{"x":22.9,"y":25.7,"c":5},{"x":24.2,"y":25.8,"c":5},{"x":25.5,"y":25.9,"c":5},
{"x":17.2,"y":24.6,"c":5},{"x":18.5,"y":24.7,"c":5},{"x":19.7,"y":24.5,"c":5},{"x":21.0,"y":24.6,"c":5},{"x":22.3,"y":24.7,"c":5},{"x":23.6,"y":24.5,"c":5},{"x":24.8,"y":24.6,"c":5},
{"x":16.5,"y":23.5,"c":5},{"x":17.8,"y":23.4,"c":5},{"x":19.1,"y":23.6,"c":5},{"x":20.4,"y":23.5,"c":5},{"x":21.6,"y":23.4,"c":5},{"x":22.9,"y":23.6,"c":5},{"x":24.2,"y":23.5,"c":5},{"x":25.5,"y":23.4,"c":5},
{"x":17.2,"y":22.4,"c":5},{"x":18.5,"y":22.5,"c":5},{"x":19.7,"y":22.3,"c":5},{"x":21.0,"y":22.4,"c":5},{"x":22.3,"y":22.5,"c":5},{"x":23.6,"y":22.3,"c":5},{"x":24.8,"y":22.4,"c":5},
{"x":17.8,"y":21.2,"c":5},{"x":19.1,"y":21.1,"c":5},{"x":20.4,"y":21.3,"c":5},{"x":21.6,"y":21.2,"c":5},{"x":22.9,"y":21.1,"c":5},{"x":24.2,"y":21.3,"c":5},
{"x":19.7,"y":20.1,"c":5},{"x":21.0,"y":20.0,"c":5},{"x":22.3,"y":20.2,"c":5},
{"x":23.0,"y":30.3,"c":5},{"x":24.5,"y":29.5,"c":5},{"x":26.3,"y":26.0,"c":5},{"x":26.0,"y":25.0,"c":5},{"x":15.3,"y":24.6,"c":5},{"x":15.5,"y":23.5,"c":5},{"x":19.3,"y":19.4,"c":5},{"x":22.3,"y":19.5,"c":5},

{"x":-2.0,"y":16.8,"c":6},{"x":-0.8,"y":16.9,"c":6},{"x":0.4,"y":16.7,"c":6},
{"x":-3.7,"y":15.5,"c":6},{"x":-2.6,"y":15.6,"c":6},{"x":-1.4,"y":15.4,"c":6},{"x":-0.2,"y":15.5,"c":6},{"x":1.0,"y":15.6,"c":6},{"x":2.1,"y":15.4,"c":6},
{"x":-4.3,"y":14.2,"c":6},{"x":-3.1,"y":14.1,"c":6},{"x":-2.0,"y":14.3,"c":6},{"x":-0.8,"y":14.2,"c":6},{"x":0.4,"y":14.1,"c":6},{"x":1.5,"y":14.3,"c":6},{"x":2.7,"y":14.2,"c":6},
{"x":-4.9,"y":12.9,"c":6},{"x":-3.7,"y":13.0,"c":6},{"x":-2.6,"y":12.8,"c":6},{"x":-1.4,"y":12.9,"c":6},{"x":-0.2,"y":13.0,"c":6},{"x":1.0,"y":12.8,"c":6},{"x":2.1,"y":12.9,"c":6},{"x":3.3,"y":13.0,"c":6},
{"x":-4.3,"y":11.6,"c":6},{"x":-3.1,"y":11.7,"c":6},{"x":-2.0,"y":11.5,"c":6},{"x":-0.8,"y":11.6,"c":6},{"x":0.4,"y":11.7,"c":6},{"x":1.5,"y":11.5,"c":6},{"x":2.7,"y":11.6,"c":6},
{"x":-4.9,"y":10.3,"c":6},{"x":-3.7,"y":10.2,"c":6},{"x":-2.6,"y":10.4,"c":6},{"x":-1.4,"y":10.3,"c":6},{"x":-0.2,"y":10.2,"c":6},{"x":1.0,"y":10.4,"c":6},{"x":2.1,"y":10.3,"c":6},{"x":3.3,"y":10.2,"c":6},
{"x":-4.3,"y":9.0,"c":6},{"x":-3.1,"y":9.1,"c":6},{"x":-2.0,"y":8.9,"c":6},{"x":-0.8,"y":9.0,"c":6},{"x":0.4,"y":9.1,"c":6},{"x":1.5,"y":8.9,"c":6},{"x":2.7,"y":9.0,"c":6},
{"x":-3.7,"y":7.7,"c":6},{"x":-2.6,"y":7.6,"c":6},{"x":-1.4,"y":7.8,"c":6},{"x":-0.2,"y":7.7,"c":6},{"x":1.0,"y":7.6,"c":6},{"x":2.1,"y":7.8,"c":6},
{"x":-2.0,"y":6.4,"c":6},{"x":-0.8,"y":6.3,"c":6},{"x":0.4,"y":6.5,"c":6},
{"x":-1.9,"y":18.0,"c":6},{"x":-0.9,"y":17.8,"c":6},{"x":-6.0,"y":12.0,"c":6},{"x":4.0,"y":9.5,"c":6},{"x":-2.3,"y":5.6,"c":6},{"x":-1.5,"y":5.3,"c":6},{"x":2.5,"y":7.0,"c":6},

{"x":43.3,"y":5.3,"c":9},{"x":44.6,"y":5.4,"c":9},{"x":45.9,"y":5.2,"c":9},
{"x":41.3,"y":4.3,"c":9},{"x":42.6,"y":4.4,"c":9},{"x":43.9,"y":4.2,"c":9},{"x":45.3,"y":4.3,"c":9},{"x":46.6,"y":4.4,"c":9},{"x":47.9,"y":4.2,"c":9},
{"x":40.6,"y":3.2,"c":9},{"x":42.0,"y":3.1,"c":9},{"x":43.3,"y":3.3,"c":9},{"x":44.6,"y":3.2,"c":9},{"x":45.9,"y":3.1,"c":9},{"x":47.3,"y":3.3,"c":9},{"x":48.6,"y":3.2,"c":9},
{"x":40.0,"y":2.2,"c":9},{"x":41.3,"y":2.3,"c":9},{"x":42.6,"y":2.1,"c":9},{"x":43.9,"y":2.2,"c":9},{"x":45.3,"y":2.3,"c":9},{"x":46.6,"y":2.1,"c":9},{"x":47.9,"y":2.2,"c":9},{"x":49.2,"y":2.3,"c":9},
{"x":40.6,"y":1.1,"c":9},{"x":42.0,"y":1.2,"c":9},{"x":43.3,"y":1.0,"c":9},{"x":44.6,"y":1.1,"c":9},{"x":45.9,"y":1.2,"c":9},{"x":47.3,"y":1.0,"c":9},{"x":48.6,"y":1.1,"c":9},
{"x":40.0,"y":0.0,"c":9},{"x":41.3,"y":-0.1,"c":9},{"x":42.6,"y":0.1,"c":9},{"x":43.9,"y":0.0,"c":9},{"x":45.3,"y":-0.1,"c":9},{"x":46.6,"y":0.1,"c":9},{"x":47.9,"y":0.0,"c":9},{"x":49.2,"y":-0.1,"c":9},
{"x":40.6,"y":-1.0,"c":9},{"x":42.0,"y":-0.9,"c":9},{"x":43.3,"y":-1.1,"c":9},{"x":44.6,"y":-1.0,"c":9},{"x":45.9,"y":-0.9,"c":9},{"x":47.3,"y":-1.1,"c":9},{"x":48.6,"y":-1.0,"c":9},
{"x":41.3,"y":-2.1,"c":9},{"x":42.6,"y":-2.2,"c":9},{"x":43.9,"y":-2.0,"c":9},{"x":45.3,"y":-2.1,"c":9},{"x":46.6,"y":-2.2,"c":9},{"x":47.9,"y":-2.0,"c":9},
{"x":43.3,"y":-3.1,"c":9},{"x":44.6,"y":-3.2,"c":9},{"x":45.9,"y":-3.0,"c":9},
{"x":39.0,"y":4.3,"c":9},{"x":39.4,"y":-2.6,"c":9},{"x":46.0,"y":6.0,"c":9},{"x":47.5,"y":6.0,"c":9},{"x":50.3,"y":0.5,"c":9},{"x":43.0,"y":-3.9,"c":9},{"x":45.0,"y":-3.8,"c":9},

{"x":-20.9,"y":0.6,"c":2},{"x":-19.6,"y":0.7,"c":2},{"x":-18.3,"y":0.5,"c":2},
{"x":-22.9,"y":-0.4,"c":2},{"x":-21.6,"y":-0.3,"c":2},{"x":-20.3,"y":-0.5,"c":2},{"x":-19.0,"y":-0.4,"c":2},{"x":-17.7,"y":-0.3,"c":2},{"x":-16.4,"y":-0.5,"c":2},
{"x":-23.5,"y":-1.4,"c":2},{"x":-22.2,"y":-1.5,"c":2},{"x":-20.9,"y":-1.3,"c":2},{"x":-19.6,"y":-1.4,"c":2},{"x":-18.3,"y":-1.5,"c":2},{"x":-17.0,"y":-1.3,"c":2},{"x":-15.7,"y":-1.4,"c":2},
{"x":-24.2,"y":-2.4,"c":2},{"x":-22.9,"y":-2.3,"c":2},{"x":-21.6,"y":-2.5,"c":2},{"x":-20.3,"y":-2.4,"c":2},{"x":-19.0,"y":-2.3,"c":2},{"x":-17.7,"y":-2.5,"c":2},{"x":-16.4,"y":-2.4,"c":2},{"x":-15.1,"y":-2.3,"c":2},
{"x":-23.5,"y":-3.5,"c":2},{"x":-22.2,"y":-3.4,"c":2},{"x":-20.9,"y":-3.6,"c":2},{"x":-19.6,"y":-3.5,"c":2},{"x":-18.3,"y":-3.4,"c":2},{"x":-17.0,"y":-3.6,"c":2},{"x":-15.7,"y":-3.5,"c":2},
{"x":-24.2,"y":-4.6,"c":2},{"x":-22.9,"y":-4.7,"c":2},{"x":-21.6,"y":-4.5,"c":2},{"x":-20.3,"y":-4.6,"c":2},{"x":-19.0,"y":-4.7,"c":2},{"x":-17.7,"y":-4.5,"c":2},{"x":-16.4,"y":-4.6,"c":2},{"x":-15.1,"y":-4.7,"c":2},
{"x":-23.5,"y":-5.6,"c":2},{"x":-22.2,"y":-5.5,"c":2},{"x":-20.9,"y":-5.7,"c":2},{"x":-19.6,"y":-5.6,"c":2},{"x":-18.3,"y":-5.5,"c":2},{"x":-17.0,"y":-5.7,"c":2},{"x":-15.7,"y":-5.6,"c":2},
{"x":-22.9,"y":-6.6,"c":2},{"x":-21.6,"y":-6.7,"c":2},{"x":-20.3,"y":-6.5,"c":2},{"x":-19.0,"y":-6.6,"c":2},{"x":-17.7,"y":-6.7,"c":2},{"x":-16.4,"y":-6.5,"c":2},
{"x":-20.9,"y":-7.6,"c":2},{"x":-19.6,"y":-7.7,"c":2},{"x":-18.3,"y":-7.5,"c":2},
{"x":-18.0,"y":1.1,"c":2},{"x":-22.0,"y":0.3,"c":2},{"x":-25.2,"y":-2.6,"c":2},{"x":-14.2,"y":-4.5,"c":2},{"x":-20.0,"y":-8.8,"c":2},{"x":-17.5,"y":-7.7,"c":2},{"x":-22.5,"y":-7.3,"c":2},

{"x":14.0,"y":-1.3,"c":0},{"x":15.3,"y":-1.2,"c":0},{"x":16.6,"y":-1.4,"c":0},
{"x":12.1,"y":-2.4,"c":0},{"x":13.4,"y":-2.3,"c":0},{"x":14.7,"y":-2.5,"c":0},{"x":16.0,"y":-2.4,"c":0},{"x":17.3,"y":-2.3,"c":0},{"x":18.6,"y":-2.5,"c":0},
{"x":11.4,"y":-3.6,"c":0},{"x":12.7,"y":-3.5,"c":0},{"x":14.0,"y":-3.7,"c":0},{"x":15.3,"y":-3.6,"c":0},{"x":16.6,"y":-3.5,"c":0},{"x":17.9,"y":-3.7,"c":0},{"x":19.2,"y":-3.6,"c":0},
{"x":10.8,"y":-4.7,"c":0},{"x":12.1,"y":-4.8,"c":0},{"x":13.4,"y":-4.6,"c":0},{"x":14.7,"y":-4.7,"c":0},{"x":16.0,"y":-4.8,"c":0},{"x":17.3,"y":-4.6,"c":0},{"x":18.6,"y":-4.7,"c":0},{"x":19.9,"y":-4.8,"c":0},
{"x":11.4,"y":-5.8,"c":0},{"x":12.7,"y":-5.7,"c":0},{"x":14.0,"y":-5.9,"c":0},{"x":15.3,"y":-5.8,"c":0},{"x":16.6,"y":-5.7,"c":0},{"x":17.9,"y":-5.9,"c":0},{"x":19.2,"y":-5.8,"c":0},
{"x":10.8,"y":-7.0,"c":0},{"x":12.1,"y":-6.9,"c":0},{"x":13.4,"y":-7.1,"c":0},{"x":14.7,"y":-7.0,"c":0},{"x":16.0,"y":-6.9,"c":0},{"x":17.3,"y":-7.1,"c":0},{"x":18.6,"y":-7.0,"c":0},{"x":19.9,"y":-6.9,"c":0},
{"x":11.4,"y":-8.1,"c":0},{"x":12.7,"y":-8.2,"c":0},{"x":14.0,"y":-8.0,"c":0},{"x":15.3,"y":-8.1,"c":0},{"x":16.6,"y":-8.2,"c":0},{"x":17.9,"y":-8.0,"c":0},{"x":19.2,"y":-8.1,"c":0},
{"x":12.1,"y":-9.2,"c":0},{"x":13.4,"y":-9.1,"c":0},{"x":14.7,"y":-9.3,"c":0},{"x":16.0,"y":-9.2,"c":0},{"x":17.3,"y":-9.1,"c":0},{"x":18.6,"y":-9.3,"c":0},
{"x":14.0,"y":-10.3,"c":0},{"x":15.3,"y":-10.4,"c":0},{"x":16.6,"y":-10.2,"c":0},
{"x":17.5,"y":-0.2,"c":0},{"x":16.0,"y":-0.6,"c":0},{"x":9.8,"y":-4.5,"c":0},{"x":20.8,"y":-6.5,"c":0},{"x":12.5,"y":-10.5,"c":0},{"x":15.2,"y":-11.3,"c":0},{"x":14.3,"y":-11.0,"c":8},

{"x":-40.1,"y":-18.7,"c":7},{"x":-38.8,"y":-18.6,"c":7},{"x":-37.5,"y":-18.8,"c":7},
{"x":-42.1,"y":-19.8,"c":7},{"x":-40.8,"y":-19.7,"c":7},{"x":-39.5,"y":-19.9,"c":7},{"x":-38.2,"y":-19.8,"c":7},{"x":-36.9,"y":-19.7,"c":7},{"x":-35.6,"y":-19.9,"c":7},
{"x":-42.7,"y":-21.0,"c":7},{"x":-41.4,"y":-20.9,"c":7},{"x":-40.1,"y":-21.1,"c":7},{"x":-38.8,"y":-21.0,"c":7},{"x":-37.5,"y":-20.9,"c":7},{"x":-36.2,"y":-21.1,"c":7},{"x":-34.9,"y":-21.0,"c":7},
{"x":-43.4,"y":-22.1,"c":7},{"x":-42.1,"y":-22.2,"c":7},{"x":-40.8,"y":-22.0,"c":7},{"x":-39.5,"y":-22.1,"c":7},{"x":-38.2,"y":-22.2,"c":7},{"x":-36.9,"y":-22.0,"c":7},{"x":-35.6,"y":-22.1,"c":7},{"x":-34.3,"y":-22.2,"c":7},
{"x":-42.7,"y":-23.2,"c":7},{"x":-41.4,"y":-23.1,"c":7},{"x":-40.1,"y":-23.3,"c":7},{"x":-38.8,"y":-23.2,"c":7},{"x":-37.5,"y":-23.1,"c":7},{"x":-36.2,"y":-23.3,"c":7},{"x":-34.9,"y":-23.2,"c":7},
{"x":-43.4,"y":-24.4,"c":7},{"x":-42.1,"y":-24.3,"c":7},{"x":-40.8,"y":-24.5,"c":7},{"x":-39.5,"y":-24.4,"c":7},{"x":-38.2,"y":-24.3,"c":7},{"x":-36.9,"y":-24.5,"c":7},{"x":-35.6,"y":-24.4,"c":7},{"x":-34.3,"y":-24.3,"c":7},
{"x":-42.7,"y":-25.5,"c":7},{"x":-41.4,"y":-25.6,"c":7},{"x":-40.1,"y":-25.4,"c":7},{"x":-38.8,"y":-25.5,"c":7},{"x":-37.5,"y":-25.6,"c":7},{"x":-36.2,"y":-25.4,"c":7},{"x":-34.9,"y":-25.5,"c":7},
{"x":-42.1,"y":-26.6,"c":7},{"x":-40.8,"y":-26.5,"c":7},{"x":-39.5,"y":-26.7,"c":7},{"x":-38.2,"y":-26.6,"c":7},{"x":-36.9,"y":-26.5,"c":7},{"x":-35.6,"y":-26.7,"c":7},
{"x":-40.1,"y":-27.7,"c":7},{"x":-38.8,"y":-27.8,"c":7},{"x":-37.5,"y":-27.6,"c":7},
{"x":-44.0,"y":-22.4,"c":7},{"x":-43.8,"y":-23.8,"c":7},{"x":-40.0,"y":-17.8,"c":7},{"x":-37.0,"y":-17.9,"c":7},{"x":-33.1,"y":-24.6,"c":7},{"x":-38.5,"y":-28.8,"c":7},{"x":-36.7,"y":-28.6,"c":7},{"x":-42.5,"y":-26.8,"c":7},

{"x":-5.1,"y":-26.3,"c":1},{"x":-3.8,"y":-26.2,"c":1},{"x":-2.5,"y":-26.4,"c":1},
{"x":-7.1,"y":-27.3,"c":1},{"x":-5.8,"y":-27.2,"c":1},{"x":-4.5,"y":-27.4,"c":1},{"x":-3.2,"y":-27.3,"c":1},{"x":-1.9,"y":-27.2,"c":1},{"x":-0.6,"y":-27.4,"c":1},
{"x":-7.7,"y":-28.3,"c":1},{"x":-6.4,"y":-28.4,"c":1},{"x":-5.1,"y":-28.2,"c":1},{"x":-3.8,"y":-28.3,"c":1},{"x":-2.5,"y":-28.4,"c":1},{"x":-1.2,"y":-28.2,"c":1},{"x":0.1,"y":-28.3,"c":1},
{"x":-8.4,"y":-29.3,"c":1},{"x":-7.1,"y":-29.2,"c":1},{"x":-5.8,"y":-29.4,"c":1},{"x":-4.5,"y":-29.3,"c":1},{"x":-3.2,"y":-29.2,"c":1},{"x":-1.9,"y":-29.4,"c":1},{"x":-0.6,"y":-29.3,"c":1},{"x":0.8,"y":-29.2,"c":1},
{"x":-7.7,"y":-30.4,"c":1},{"x":-6.4,"y":-30.3,"c":1},{"x":-5.1,"y":-30.5,"c":1},{"x":-3.8,"y":-30.4,"c":1},{"x":-2.5,"y":-30.3,"c":1},{"x":-1.2,"y":-30.5,"c":1},{"x":0.1,"y":-30.4,"c":1},
{"x":-8.4,"y":-31.5,"c":1},{"x":-7.1,"y":-31.6,"c":1},{"x":-5.8,"y":-31.4,"c":1},{"x":-4.5,"y":-31.5,"c":1},{"x":-3.2,"y":-31.6,"c":1},{"x":-1.9,"y":-31.4,"c":1},{"x":-0.6,"y":-31.5,"c":1},{"x":0.8,"y":-31.6,"c":1},
{"x":-7.7,"y":-32.5,"c":1},{"x":-6.4,"y":-32.4,"c":1},{"x":-5.1,"y":-32.6,"c":1},{"x":-3.8,"y":-32.5,"c":1},{"x":-2.5,"y":-32.4,"c":1},{"x":-1.2,"y":-32.6,"c":1},{"x":0.1,"y":-32.5,"c":1},
{"x":-7.1,"y":-33.5,"c":1},{"x":-5.8,"y":-33.6,"c":1},{"x":-4.5,"y":-33.4,"c":1},{"x":-3.2,"y":-33.5,"c":1},{"x":-1.9,"y":-33.6,"c":1},{"x":-0.6,"y":-33.4,"c":1},
{"x":-5.1,"y":-34.5,"c":1},{"x":-3.8,"y":-34.6,"c":1},{"x":-2.5,"y":-34.4,"c":1},
{"x":-9.3,"y":-30.4,"c":1},{"x":-8.7,"y":-27.2,"c":1},{"x":-1.5,"y":-25.5,"c":1},{"x":1.5,"y":-28.8,"c":1},{"x":1.2,"y":-32.5,"c":1},{"x":-2.5,"y":-35.4,"c":1},{"x":-4.5,"y":-35.6,"c":1},{"x":-8.2,"y":-34.3,"c":1},

{"x":20.1,"y":-29.8,"c":2},{"x":21.4,"y":-29.7,"c":2},{"x":22.7,"y":-29.9,"c":2},
{"x":18.2,"y":-30.9,"c":2},{"x":19.5,"y":-30.8,"c":2},{"x":20.8,"y":-31.0,"c":2},{"x":22.1,"y":-30.9,"c":2},{"x":23.4,"y":-30.8,"c":2},{"x":24.7,"y":-31.0,"c":2},
{"x":17.5,"y":-32.0,"c":2},{"x":18.8,"y":-32.1,"c":2},{"x":20.1,"y":-31.9,"c":2},{"x":21.4,"y":-32.0,"c":2},{"x":22.7,"y":-32.1,"c":2},{"x":24.0,"y":-31.9,"c":2},{"x":25.3,"y":-32.0,"c":2},
{"x":16.9,"y":-33.1,"c":2},{"x":18.2,"y":-33.0,"c":2},{"x":19.5,"y":-33.2,"c":2},{"x":20.8,"y":-33.1,"c":2},{"x":22.1,"y":-33.0,"c":2},{"x":23.4,"y":-33.2,"c":2},{"x":24.7,"y":-33.1,"c":2},{"x":26.0,"y":-33.0,"c":2},
{"x":17.5,"y":-34.2,"c":2},{"x":18.8,"y":-34.3,"c":2},{"x":20.1,"y":-34.1,"c":2},{"x":21.4,"y":-34.2,"c":2},{"x":22.7,"y":-34.3,"c":2},{"x":24.0,"y":-34.1,"c":2},{"x":25.3,"y":-34.2,"c":2},
{"x":16.9,"y":-35.3,"c":2},{"x":18.2,"y":-35.4,"c":2},{"x":19.5,"y":-35.2,"c":2},{"x":20.8,"y":-35.3,"c":2},{"x":22.1,"y":-35.4,"c":2},{"x":23.4,"y":-35.2,"c":2},{"x":24.7,"y":-35.3,"c":2},{"x":26.0,"y":-35.4,"c":2},
{"x":17.5,"y":-36.4,"c":2},{"x":18.8,"y":-36.3,"c":2},{"x":20.1,"y":-36.5,"c":2},{"x":21.4,"y":-36.4,"c":2},{"x":22.7,"y":-36.3,"c":2},{"x":24.0,"y":-36.5,"c":2},{"x":25.3,"y":-36.4,"c":2},
{"x":18.2,"y":-37.5,"c":2},{"x":19.5,"y":-37.6,"c":2},{"x":20.8,"y":-37.4,"c":2},{"x":22.1,"y":-37.5,"c":2},{"x":23.4,"y":-37.6,"c":2},{"x":24.7,"y":-37.4,"c":2},
{"x":20.1,"y":-38.6,"c":2},{"x":21.4,"y":-38.7,"c":2},{"x":22.7,"y":-38.5,"c":2},
{"x":20.0,"y":-29.0,"c":2},{"x":23.5,"y":-39.9,"c":2},{"x":15.8,"y":-34.3,"c":2},{"x":26.8,"y":-35.8,"c":2},{"x":18.2,"y":-38.7,"c":2},{"x":19.3,"y":-38.9,"c":2},{"x":26.3,"y":-36.9,"c":2}
],
"f": [
{"x":-3.5,"y":19.7,"c":1},{"x":-4.0,"y":19.5,"c":1},{"x":-3.4,"y":18.9,"c":1},{"x":-4.1,"y":18.8,"c":1},{"x":-3.1,"y":18.8,"c":1},{"x":-3.7,"y":18.4,"c":0},{"x":-4.3,"y":18.2,"c":1},{"x":-3.3,"y":18.2,"c":1},{"x":-2.6,"y":18.1,"c":0},{"x":-1.9,"y":18.4,"c":1},{"x":-4.9,"y":17.6,"c":1},{"x":-4.0,"y":17.7,"c":1},{"x":-3.4,"y":17.7,"c":1},{"x":-2.9,"y":17.8,"c":1},{"x":-4.1,"y":17.3,"c":1},{"x":-3.6,"y":17.2,"c":1},{"x":-3.0,"y":17.1,"c":0},{"x":-2.5,"y":17.3,"c":1},{"x":-4.9,"y":17.0,"c":1},{"x":-3.6,"y":16.7,"c":1},{"x":-2.2,"y":16.6,"c":1},{"x":-1.6,"y":16.3,"c":1},{"x":-5.8,"y":16.3,"c":1},{"x":-1.8,"y":16.0,"c":1},{"x":-4.1,"y":15.9,"c":1},{"x":-2.7,"y":15.7,"c":1},{"x":-3.6,"y":15.4,"c":1},{"x":-2.1,"y":15.4,"c":0},{"x":-1.9,"y":15.3,"c":0},{"x":-4.2,"y":15.1,"c":1},{"x":-3.2,"y":18.0,"c":1},{"x":-2.8,"y":17.5,"c":1},{"x":-2.1,"y":14.7,"c":6},{"x":-1.6,"y":14.1,"c":6},
{"x":-9.5,"y":11.8,"c":2},{"x":-10.7,"y":11.0,"c":2},{"x":-10.4,"y":11.0,"c":2},{"x":-9.7,"y":11.2,"c":2},{"x":-8.4,"y":11.1,"c":2},{"x":-11.2,"y":10.7,"c":2},{"x":-8.9,"y":10.8,"c":2},{"x":-10.1,"y":10.4,"c":2},{"x":-9.4,"y":10.4,"c":2},{"x":-10.5,"y":10.0,"c":2},{"x":-9.8,"y":10.1,"c":2},{"x":-9.0,"y":10.2,"c":2},{"x":-8.5,"y":10.3,"c":2},{"x":-7.9,"y":10.3,"c":2},{"x":-7.0,"y":10.4,"c":2},{"x":-6.7,"y":10.5,"c":2},{"x":-5.2,"y":10.4,"c":2},{"x":-11.0,"y":9.7,"c":2},{"x":-10.4,"y":9.6,"c":2},{"x":-9.5,"y":9.6,"c":2},{"x":-8.8,"y":9.8,"c":2},{"x":-8.3,"y":9.7,"c":2},{"x":-7.8,"y":9.6,"c":2},{"x":-7.2,"y":10.1,"c":2},{"x":-10.5,"y":8.9,"c":2},{"x":-9.9,"y":9.1,"c":2},{"x":-9.3,"y":8.9,"c":2},{"x":-8.5,"y":9.2,"c":2},{"x":-9.4,"y":8.6,"c":2},{"x":-9.6,"y":8.3,"c":2},{"x":-8.8,"y":8.5,"c":2},{"x":-8.3,"y":8.3,"c":2},{"x":-7.5,"y":8.0,"c":2},{"x":-8.3,"y":7.9,"c":2},{"x":-8.8,"y":7.6,"c":3},{"x":-9.6,"y":9.4,"c":2},
{"x":10.7,"y":14.0,"c":2},{"x":10.8,"y":13.8,"c":2},{"x":11.8,"y":13.8,"c":2},{"x":12.6,"y":13.5,"c":2},{"x":13.1,"y":13.5,"c":2},{"x":11.6,"y":13.5,"c":2},{"x":13.6,"y":13.1,"c":2},{"x":13.9,"y":12.9,"c":2},{"x":11.0,"y":12.9,"c":2},{"x":12.2,"y":12.9,"c":2},{"x":12.7,"y":12.8,"c":2},{"x":13.3,"y":12.7,"c":2},{"x":10.0,"y":12.3,"c":2},{"x":10.5,"y":12.2,"c":2},{"x":11.4,"y":12.3,"c":2},{"x":12.0,"y":12.4,"c":2},{"x":12.5,"y":12.2,"c":2},{"x":13.1,"y":12.1,"c":2},{"x":10.4,"y":11.9,"c":2},{"x":11.1,"y":11.9,"c":2},{"x":11.7,"y":11.8,"c":2},{"x":12.3,"y":11.7,"c":2},{"x":13.3,"y":12.0,"c":2},{"x":9.3,"y":11.4,"c":2},{"x":10.3,"y":11.4,"c":2},{"x":10.9,"y":11.2,"c":2},{"x":11.8,"y":11.6,"c":2},{"x":12.7,"y":11.5,"c":2},{"x":12.5,"y":11.2,"c":2},{"x":10.2,"y":10.7,"c":2},{"x":10.9,"y":10.6,"c":2},{"x":11.4,"y":10.8,"c":2},{"x":9.9,"y":10.5,"c":2},{"x":11.3,"y":12.2,"c":2},{"x":9.3,"y":9.8,"c":7},
{"x":0.6,"y":7.4,"c":6},{"x":-0.1,"y":6.8,"c":6},{"x":1.2,"y":7.0,"c":6},{"x":2.2,"y":7.0,"c":6},{"x":-0.8,"y":6.4,"c":6},{"x":0.4,"y":6.5,"c":6},{"x":1.5,"y":6.4,"c":6},{"x":-0.4,"y":6.1,"c":6},{"x":0.8,"y":6.1,"c":6},{"x":1.7,"y":6.0,"c":6},{"x":0.1,"y":5.7,"c":6},{"x":1.0,"y":5.8,"c":6},{"x":2.8,"y":6.1,"c":6},{"x":-0.2,"y":5.2,"c":6},{"x":0.4,"y":5.3,"c":6},{"x":1.3,"y":5.4,"c":6},{"x":2.0,"y":5.3,"c":6},{"x":-1.1,"y":4.9,"c":6},{"x":0.8,"y":5.0,"c":6},{"x":1.5,"y":4.7,"c":6},{"x":-1.2,"y":4.6,"c":6},{"x":0.1,"y":4.5,"c":6},{"x":1.1,"y":4.6,"c":6},{"x":0.6,"y":4.2,"c":6},{"x":0.1,"y":3.9,"c":6},{"x":0.7,"y":3.6,"c":6},{"x":2.2,"y":3.9,"c":6},{"x":-0.4,"y":3.2,"c":6},{"x":-0.7,"y":6.2,"c":6},
{"x":-24.9,"y":1.6,"c":7},{"x":-23.4,"y":1.5,"c":7},{"x":-22.2,"y":1.4,"c":7},{"x":-24.3,"y":0.7,"c":7},{"x":-23.8,"y":0.5,"c":7},{"x":-23.1,"y":0.9,"c":6},{"x":-22.4,"y":0.8,"c":7},{"x":-21.6,"y":0.8,"c":7},{"x":-24.8,"y":0.4,"c":7},{"x":-23.7,"y":0.5,"c":7},{"x":-22.5,"y":0.3,"c":7},{"x":-21.7,"y":0.3,"c":7},{"x":-24.4,"y":-0.1,"c":7},{"x":-24.0,"y":0.1,"c":6},{"x":-23.0,"y":-0.1,"c":7},{"x":-24.7,"y":-0.4,"c":7},{"x":-24.2,"y":-0.6,"c":7},{"x":-23.7,"y":-0.7,"c":7},{"x":-23.0,"y":-0.7,"c":7},{"x":-22.3,"y":-0.5,"c":7},{"x":-21.7,"y":-0.5,"c":6},{"x":-20.9,"y":-0.4,"c":7},{"x":-20.7,"y":-0.5,"c":7},{"x":-24.4,"y":-1.5,"c":7},{"x":-23.7,"y":-1.6,"c":7},{"x":-22.8,"y":-1.6,"c":7},{"x":-22.7,"y":-1.3,"c":7},{"x":-23.9,"y":-1.1,"c":7},{"x":-23.2,"y":-0.4,"c":7},
{"x":10.8,"y":1.7,"c":0},{"x":10.0,"y":0.3,"c":6},{"x":11.6,"y":0.7,"c":0},{"x":12.2,"y":0.4,"c":0},{"x":12.7,"y":0.8,"c":0},{"x":12.5,"y":0.4,"c":0},{"x":13.1,"y":0.4,"c":1},{"x":13.3,"y":0.3,"c":0},{"x":11.0,"y":-0.2,"c":0},{"x":11.5,"y":-0.1,"c":0},{"x":12.0,"y":-0.1,"c":0},{"x":12.5,"y":-0.2,"c":0},{"x":13.1,"y":-0.2,"c":0},{"x":13.6,"y":-0.4,"c":0},{"x":10.5,"y":-1.1,"c":1},{"x":11.4,"y":-0.7,"c":0},{"x":11.8,"y":-0.9,"c":0},{"x":12.3,"y":-0.7,"c":0},{"x":12.9,"y":-0.8,"c":0},{"x":13.5,"y":-1.0,"c":0},{"x":11.8,"y":-1.5,"c":0},{"x":12.5,"y":-1.4,"c":0},{"x":12.9,"y":-1.3,"c":0},{"x":11.1,"y":-2.3,"c":1},{"x":12.5,"y":-2.1,"c":1},{"x":12.0,"y":-0.4,"c":0},
{"x":-8.7,"y":-2.3,"c":3},{"x":-6.8,"y":-2.5,"c":3},{"x":-10.8,"y":-3.2,"c":3},{"x":-10.3,"y":-2.9,"c":3},{"x":-9.5,"y":-2.8,"c":3},{"x":-8.5,"y":-3.0,"c":3},{"x":-9.6,"y":-3.4,"c":3},{"x":-9.3,"y":-3.2,"c":3},{"x":-8.9,"y":-3.7,"c":3},{"x":-8.3,"y":-3.4,"c":3},{"x":-7.8,"y":-3.6,"c":3},{"x":-10.1,"y":-4.1,"c":3},{"x":-9.6,"y":-3.8,"c":3},{"x":-9.1,"y":-4.1,"c":3},{"x":-8.5,"y":-3.9,"c":3},{"x":-7.9,"y":-3.8,"c":3},{"x":-9.0,"y":-4.4,"c":3},{"x":-8.5,"y":-4.6,"c":3},{"x":-11.0,"y":-4.8,"c":3},{"x":-10.4,"y":-4.8,"c":3},{"x":-9.7,"y":-4.8,"c":3},{"x":-8.8,"y":-4.7,"c":3},{"x":-8.3,"y":-4.7,"c":3},{"x":-7.0,"y":-4.8,"c":3},{"x":-9.5,"y":-5.4,"c":3},{"x":-8.8,"y":-5.4,"c":3},{"x":-8.1,"y":-5.5,"c":3},{"x":-9.5,"y":-5.7,"c":3},
{"x":7.8,"y":-3.2,"c":8},{"x":7.8,"y":-3.7,"c":0},{"x":7.1,"y":-5.1,"c":0},{"x":6.6,"y":-5.3,"c":7},{"x":6.3,"y":-5.9,"c":5},{"x":3.5,"y":-6.3,"c":5},{"x":3.9,"y":-6.4,"c":5},{"x":4.3,"y":-6.9,"c":5},{"x":5.7,"y":-6.6,"c":5},{"x":3.7,"y":-7.6,"c":5},{"x":4.6,"y":-7.6,"c":5},{"x":5.1,"y":-7.4,"c":5},{"x":6.0,"y":-7.6,"c":5},{"x":6.6,"y":-7.8,"c":5},{"x":7.2,"y":-7.2,"c":5},{"x":3.7,"y":-8.1,"c":5},{"x":4.2,"y":-8.6,"c":5},{"x":4.9,"y":-8.6,"c":5},{"x":5.5,"y":-8.4,"c":5},{"x":6.0,"y":-8.0,"c":5},{"x":4.1,"y":-9.1,"c":5},{"x":4.6,"y":-9.0,"c":5},{"x":5.1,"y":-9.2,"c":5},{"x":2.6,"y":-9.3,"c":5},{"x":3.4,"y":-9.3,"c":5},{"x":4.4,"y":-9.6,"c":5},{"x":4.9,"y":-9.8,"c":5},{"x":5.5,"y":-9.9,"c":5},{"x":3.8,"y":-9.9,"c":5},{"x":2.8,"y":-10.5,"c":5},{"x":3.7,"y":-10.3,"c":5},{"x":4.4,"y":-10.2,"c":5},{"x":5.0,"y":-10.1,"c":5},{"x":3.9,"y":-11.1,"c":5},
{"x":18.0,"y":-9.3,"c":9},{"x":19.0,"y":-9.0,"c":9},{"x":19.4,"y":-8.8,"c":9},{"x":19.1,"y":-9.4,"c":9},{"x":18.8,"y":-10.1,"c":9},{"x":19.7,"y":-10.2,"c":9},{"x":20.6,"y":-9.9,"c":9},{"x":21.2,"y":-9.9,"c":9},{"x":21.6,"y":-10.1,"c":9},{"x":19.2,"y":-10.5,"c":9},{"x":20.2,"y":-10.4,"c":9},{"x":20.9,"y":-10.2,"c":9},{"x":21.9,"y":-10.3,"c":9},{"x":22.2,"y":-10.4,"c":9},{"x":19.6,"y":-10.8,"c":9},{"x":20.3,"y":-10.9,"c":9},{"x":21.0,"y":-10.8,"c":9},{"x":21.7,"y":-10.8,"c":9},{"x":19.8,"y":-11.2,"c":9},{"x":20.5,"y":-11.4,"c":9},{"x":21.2,"y":-11.2,"c":9},{"x":22.1,"y":-11.4,"c":9},{"x":20.1,"y":-11.8,"c":9},{"x":20.7,"y":-11.7,"c":9},{"x":20.2,"y":-12.2,"c":9},{"x":18.9,"y":-9.9,"c":9},
{"x":-0.1,"y":-20.2,"c":8},{"x":-0.5,"y":-21.3,"c":8},{"x":-0.7,"y":-21.9,"c":8},{"x":-2.5,"y":-21.7,"c":8},{"x":-1.8,"y":-21.7,"c":8},{"x":-0.9,"y":-22.5,"c":8},{"x":-0.3,"y":-22.5,"c":8},{"x":-2.9,"y":-22.4,"c":8},{"x":-2.3,"y":-22.8,"c":8},{"x":-3.0,"y":-23.0,"c":8},{"x":-1.4,"y":-22.9,"c":8},{"x":-1.1,"y":-23.0,"c":8},{"x":0.4,"y":-23.2,"c":8},{"x":-2.1,"y":-23.4,"c":8},{"x":-1.6,"y":-23.3,"c":8},{"x":-0.7,"y":-23.4,"c":8},{"x":-0.2,"y":-23.7,"c":8},{"x":-1.2,"y":-23.7,"c":8},{"x":0.7,"y":-23.8,"c":8},{"x":-2.0,"y":-24.0,"c":8},{"x":-0.9,"y":-24.0,"c":8},{"x":-2.4,"y":-24.4,"c":8},{"x":-1.4,"y":-24.5,"c":8},{"x":-0.5,"y":-24.5,"c":8},{"x":-1.6,"y":-23.6,"c":8}
]
},
"concat": [
{
 "data": {"name": "c"},
 "width": 1632, "height": 1296,
 "title": {"text": "(c)", "orient": "bottom", "offset": 62, "dx": -36},
 "mark": {"type": "circle", "size": 300, "opacity": 0.8, "stroke": "white", "strokeWidth": 1.2},
 "encoding": {
  "x": {"field": "x", "type": "quantitative", "scale": {"domain": [-56.6, 51.5], "nice": false, "zero": false}, "axis": {"values": [-40, -20, 0, 20, 40], "title": null}},
  "y": {"field": "y", "type": "quantitative", "scale": {"domain": [-50.0, 48.2], "nice": false, "zero": false}, "axis": {"values": [-40, -20, 0, 20, 40], "title": null}},
  "color": {"field": "c", "type": "nominal", "scale": {"domain": [0,1,2,3,4,5,6,7,8,9], "range": ["#440154","#482878","#3e4989","#31688e","#26828e","#1f9e89","#35b779","#6ece58","#b5de2b","#fde725"]}, "legend": {"title": "Clusters"}}
 }
},
{
 "data": {"name": "d"},
 "width": 1606, "height": 1279,
 "title": {"text": "(d)", "orient": "bottom", "offset": 79, "dx": -38},
 "mark": {"type": "circle", "size": 260, "opacity": 0.8, "stroke": "white", "strokeWidth": 1.2},
 "encoding": {
  "x": {"field": "x", "type": "quantitative", "scale": {"domain": [-29.3, 34.1], "nice": false, "zero": false}, "axis": {"values": [-20, -10, 0, 10, 20, 30], "title": null}},
  "y": {"field": "y", "type": "quantitative", "scale": {"domain": [-17.56, 15.34], "nice": false, "zero": false}, "axis": {"values": [-15, -10, -5, 0, 5, 10, 15], "title": null}},
  "color": {"field": "c", "type": "nominal", "scale": {"domain": [0,1,2,3,4,5,6,7,8,9], "range": ["#440154","#482878","#3e4989","#31688e","#26828e","#1f9e89","#35b779","#6ece58","#b5de2b","#fde725"]}, "legend": {"title": "Clusters"}}
 }
},
{
 "data": {"name": "e"},
 "width": 1624, "height": 1294,
 "title": {"text": "(e)", "orient": "bottom", "offset": 58, "dx": -33},
 "mark": {"type": "circle", "size": 300, "opacity": 0.8, "stroke": "white", "strokeWidth": 1.2},
 "encoding": {
  "x": {"field": "x", "type": "quantitative", "scale": {"domain": [-48.4, 54.8], "nice": false, "zero": false}, "axis": {"values": [-40, -20, 0, 20, 40], "title": null}},
  "y": {"field": "y", "type": "quantitative", "scale": {"domain": [-44.3, 53.1], "nice": false, "zero": false}, "axis": {"values": [-40, -20, 0, 20, 40], "title": null}},
  "color": {"field": "c", "type": "nominal", "scale": {"domain": [0,1,2,3,5,6,7,8,9], "range": ["#440154","#482878","#3e4989","#31688e","#1f9e89","#35b779","#6ece58","#b5de2b","#fde725"]}, "legend": {"title": "Clusters"}}
 }
},
{
 "data": {"name": "f"},
 "width": 1587, "height": 1264,
 "title": {"text": "(f)", "orient": "bottom", "offset": 88, "dx": -30},
 "mark": {"type": "circle", "size": 260, "opacity": 0.8, "stroke": "white", "strokeWidth": 1.2},
 "encoding": {
  "x": {"field": "x", "type": "quantitative", "scale": {"domain": [-27.26, 24.59], "nice": false, "zero": false}, "axis": {"values": [-20, -10, 0, 10, 20], "title": null}},
  "y": {"field": "y", "type": "quantitative", "scale": {"domain": [-26.74, 21.85], "nice": false, "zero": false}, "axis": {"values": [-20, -10, 0, 10, 20], "title": null}},
  "color": {"field": "c", "type": "nominal", "scale": {"domain": [0,1,2,3,5,6,7,8,9], "range": ["#440154","#482878","#3e4989","#31688e","#1f9e89","#35b779","#6ece58","#b5de2b","#fde725"]}, "legend": {"title": "Clusters"}}
 }
}
]
}
